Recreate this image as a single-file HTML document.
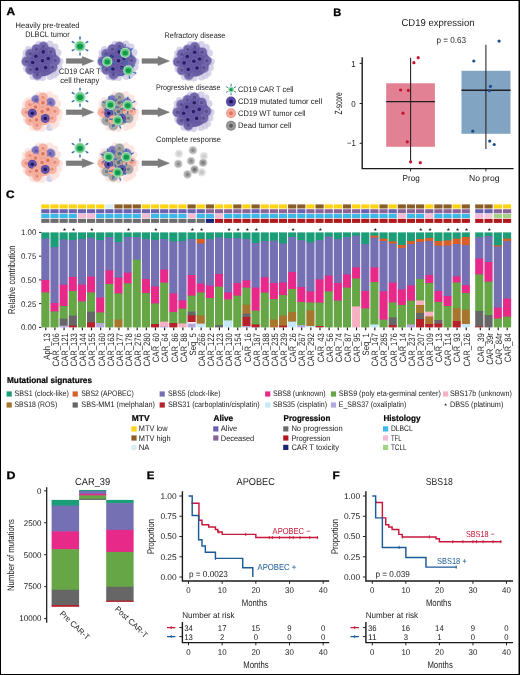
<!DOCTYPE html>
<html lang="en">
<head>
<meta charset="utf-8">
<title>Figure</title>
<style>
html,body{margin:0;padding:0;background:#fff;}
body{width:520px;height:675px;overflow:hidden;}
svg{display:block;font-family:"Liberation Sans",sans-serif;text-rendering:geometricPrecision;fill:#1a1a1a;}
</style>
</head>
<body>
<svg width="520" height="675" viewBox="0 0 520 675">
<rect x="0" y="0" width="520" height="675" fill="#ffffff"/>
<defs><filter id="soft" x="-20%" y="-20%" width="140%" height="140%"><feGaussianBlur stdDeviation="0.6"/></filter><filter id="soft2" x="-20%" y="-20%" width="140%" height="140%"><feGaussianBlur stdDeviation="0.35"/></filter></defs>
<g id="panel-a">
<text x="6.4" y="15.2" font-size="10.8" font-weight="bold" textLength="8.6" lengthAdjust="spacingAndGlyphs" fill="#000" stroke="#000" stroke-width="0.3">A</text>
<g filter="url(#soft)">
<circle cx="39" cy="44.2" r="3.5" fill="#cdc8e4" opacity="0.8"/>
<circle cx="49.9" cy="44" r="3.5" fill="#cdc8e4" opacity="0.8"/>
<circle cx="28.4" cy="49.6" r="3.5" fill="#cdc8e4" opacity="0.8"/>
<circle cx="58" cy="52.6" r="3.5" fill="#cdc8e4" opacity="0.8"/>
<circle cx="25.4" cy="58" r="3.5" fill="#cdc8e4" opacity="0.8"/>
<circle cx="60" cy="61.4" r="3.5" fill="#cdc8e4" opacity="0.8"/>
<circle cx="26.6" cy="68.6" r="3.5" fill="#cdc8e4" opacity="0.8"/>
<circle cx="56.6" cy="72.6" r="3.5" fill="#cdc8e4" opacity="0.8"/>
<circle cx="33" cy="76.4" r="3.5" fill="#cdc8e4" opacity="0.8"/>
<circle cx="42.6" cy="77.6" r="3.5" fill="#cdc8e4" opacity="0.8"/>
<circle cx="50" cy="76.6" r="3.5" fill="#cdc8e4" opacity="0.8"/>
<circle cx="55" cy="47" r="3.5" fill="#cdc8e4" opacity="0.8"/>
<circle cx="26" cy="53" r="3.5" fill="#cdc8e4" opacity="0.8"/>
<circle cx="59" cy="67" r="3.5" fill="#cdc8e4" opacity="0.8"/>
<circle cx="37.5" cy="77.4" r="3.5" fill="#cdc8e4" opacity="0.8"/>
<circle cx="54" cy="75" r="3.5" fill="#cdc8e4" opacity="0.8"/>
<circle cx="36.5" cy="49.2" r="5.4" fill="#9a91c6" opacity="0.9"/>
<circle cx="30.3" cy="53.8" r="5.4" fill="#9a91c6" opacity="0.9"/>
<circle cx="50.7" cy="51.9" r="5.4" fill="#9a91c6" opacity="0.9"/>
<circle cx="55.3" cy="60.4" r="5.4" fill="#9a91c6" opacity="0.9"/>
<circle cx="52.4" cy="67.3" r="5.4" fill="#9a91c6" opacity="0.9"/>
<circle cx="30.5" cy="69.7" r="5.4" fill="#9a91c6" opacity="0.9"/>
<circle cx="26.6" cy="61.5" r="5.4" fill="#9a91c6" opacity="0.9"/>
<circle cx="37.4" cy="74.5" r="5.4" fill="#9a91c6" opacity="0.9"/>
<circle cx="43.4" cy="46.6" r="5.4" fill="#9a91c6" opacity="0.9"/>
<circle cx="42.5" cy="61" r="15.2" fill="#6a5da6"/>
<g>
<circle cx="36.5" cy="49.2" r="4.4" fill="#6c60a8"/>
<circle cx="36.5" cy="49.2" r="3.5" fill="#766aae"/>
<circle cx="36.5" cy="49.2" r="1.7" fill="#5a4f8c"/>
</g>
<g>
<circle cx="30.3" cy="53.8" r="4.4" fill="#6c60a8"/>
<circle cx="30.3" cy="53.8" r="3.5" fill="#766aae"/>
<circle cx="30.3" cy="53.8" r="1.7" fill="#5a4f8c"/>
</g>
<g>
<circle cx="50.7" cy="51.9" r="4.4" fill="#6c60a8"/>
<circle cx="50.7" cy="51.9" r="3.5" fill="#766aae"/>
<circle cx="50.7" cy="51.9" r="1.7" fill="#5a4f8c"/>
</g>
<g>
<circle cx="55.3" cy="60.4" r="4.4" fill="#6c60a8"/>
<circle cx="55.3" cy="60.4" r="3.5" fill="#766aae"/>
<circle cx="55.3" cy="60.4" r="1.7" fill="#5a4f8c"/>
</g>
<g>
<circle cx="52.4" cy="67.3" r="4.4" fill="#6c60a8"/>
<circle cx="52.4" cy="67.3" r="3.5" fill="#766aae"/>
<circle cx="52.4" cy="67.3" r="1.7" fill="#5a4f8c"/>
</g>
<g>
<circle cx="30.5" cy="69.7" r="4.4" fill="#6c60a8"/>
<circle cx="30.5" cy="69.7" r="3.5" fill="#766aae"/>
<circle cx="30.5" cy="69.7" r="1.7" fill="#5a4f8c"/>
</g>
<g>
<circle cx="26.6" cy="61.5" r="4.4" fill="#6c60a8"/>
<circle cx="26.6" cy="61.5" r="3.5" fill="#766aae"/>
<circle cx="26.6" cy="61.5" r="1.7" fill="#5a4f8c"/>
</g>
<g>
<circle cx="37.4" cy="74.5" r="4.4" fill="#6c60a8"/>
<circle cx="37.4" cy="74.5" r="3.5" fill="#766aae"/>
<circle cx="37.4" cy="74.5" r="1.7" fill="#5a4f8c"/>
</g>
<g>
<circle cx="43.4" cy="46.6" r="4.4" fill="#6c60a8"/>
<circle cx="43.4" cy="46.6" r="3.5" fill="#766aae"/>
<circle cx="43.4" cy="46.6" r="1.7" fill="#5a4f8c"/>
</g>
<g>
<circle cx="43.25" cy="51.9" r="4.5" fill="#5f529f"/>
<circle cx="43.25" cy="51.9" r="3.6" fill="#6a5da6"/>
<circle cx="43.25" cy="51.9" r="1.8" fill="#2a1a66"/>
</g>
<g>
<circle cx="35.9" cy="56.2" r="4.5" fill="#5f529f"/>
<circle cx="35.9" cy="56.2" r="3.6" fill="#6a5da6"/>
<circle cx="35.9" cy="56.2" r="1.8" fill="#2a1a66"/>
</g>
<g>
<circle cx="48.25" cy="58.6" r="4.5" fill="#5f529f"/>
<circle cx="48.25" cy="58.6" r="3.6" fill="#6a5da6"/>
<circle cx="48.25" cy="58.6" r="1.8" fill="#2a1a66"/>
</g>
<g>
<circle cx="42.5" cy="60.8" r="4.5" fill="#5f529f"/>
<circle cx="42.5" cy="60.8" r="3.6" fill="#6a5da6"/>
<circle cx="42.5" cy="60.8" r="1.8" fill="#2a1a66"/>
</g>
<g>
<circle cx="32.7" cy="62.5" r="4.5" fill="#5f529f"/>
<circle cx="32.7" cy="62.5" r="3.6" fill="#6a5da6"/>
<circle cx="32.7" cy="62.5" r="1.8" fill="#2a1a66"/>
</g>
<g>
<circle cx="45.6" cy="67.6" r="4.5" fill="#5f529f"/>
<circle cx="45.6" cy="67.6" r="3.6" fill="#6a5da6"/>
<circle cx="45.6" cy="67.6" r="1.8" fill="#2a1a66"/>
</g>
<g>
<circle cx="36.9" cy="69" r="4.5" fill="#5f529f"/>
<circle cx="36.9" cy="69" r="3.6" fill="#6a5da6"/>
<circle cx="36.9" cy="69" r="1.8" fill="#2a1a66"/>
</g>
</g>
<g filter="url(#soft)">
<circle cx="38.6" cy="95" r="3.5" fill="#fde0d9" opacity="0.8"/>
<circle cx="49.5" cy="94.8" r="3.5" fill="#fde0d9" opacity="0.8"/>
<circle cx="28" cy="100.4" r="3.5" fill="#fde0d9" opacity="0.8"/>
<circle cx="57.6" cy="103.4" r="3.5" fill="#fde0d9" opacity="0.8"/>
<circle cx="25" cy="108.8" r="3.5" fill="#fde0d9" opacity="0.8"/>
<circle cx="59.6" cy="112.2" r="3.5" fill="#fde0d9" opacity="0.8"/>
<circle cx="26.2" cy="119.4" r="3.5" fill="#fde0d9" opacity="0.8"/>
<circle cx="56.2" cy="123.4" r="3.5" fill="#fde0d9" opacity="0.8"/>
<circle cx="32.6" cy="127.2" r="3.5" fill="#fde0d9" opacity="0.8"/>
<circle cx="42.2" cy="128.4" r="3.5" fill="#fde0d9" opacity="0.8"/>
<circle cx="49.6" cy="127.4" r="3.5" fill="#c4c4e8" opacity="0.8"/>
<circle cx="54.6" cy="97.8" r="3.5" fill="#fde0d9" opacity="0.8"/>
<circle cx="25.6" cy="103.8" r="3.5" fill="#fde0d9" opacity="0.8"/>
<circle cx="58.6" cy="117.8" r="3.5" fill="#fde0d9" opacity="0.8"/>
<circle cx="37.1" cy="128.2" r="3.5" fill="#fde0d9" opacity="0.8"/>
<circle cx="53.6" cy="125.8" r="3.5" fill="#fde0d9" opacity="0.8"/>
<circle cx="36.1" cy="100" r="5.4" fill="#a8a4d8" opacity="0.9"/>
<circle cx="29.9" cy="104.6" r="5.4" fill="#fac9be" opacity="0.9"/>
<circle cx="50.3" cy="102.7" r="5.4" fill="#a8a4d8" opacity="0.9"/>
<circle cx="54.9" cy="111.2" r="5.4" fill="#fac9be" opacity="0.9"/>
<circle cx="52" cy="118.1" r="5.4" fill="#fac9be" opacity="0.9"/>
<circle cx="30.1" cy="120.5" r="5.4" fill="#fac9be" opacity="0.9"/>
<circle cx="26.2" cy="112.3" r="5.4" fill="#fac9be" opacity="0.9"/>
<circle cx="37" cy="125.3" r="5.4" fill="#fac9be" opacity="0.9"/>
<circle cx="43" cy="97.4" r="5.4" fill="#fac9be" opacity="0.9"/>
<circle cx="42.1" cy="111.8" r="13.6" fill="#f5af9f"/>
<g>
<circle cx="36.1" cy="100" r="4.4" fill="#7a72bb"/>
<circle cx="36.1" cy="100" r="3.5" fill="#8079c0"/>
<circle cx="36.1" cy="100" r="1.7" fill="#615aa8"/>
</g>
<g>
<circle cx="29.9" cy="104.6" r="4.4" fill="#f4ab9b"/>
<circle cx="29.9" cy="104.6" r="3.5" fill="#f7b8aa"/>
<circle cx="29.9" cy="104.6" r="1.7" fill="#e58f7a"/>
</g>
<g>
<circle cx="50.3" cy="102.7" r="4.4" fill="#7a72bb"/>
<circle cx="50.3" cy="102.7" r="3.5" fill="#8079c0"/>
<circle cx="50.3" cy="102.7" r="1.7" fill="#615aa8"/>
</g>
<g>
<circle cx="54.9" cy="111.2" r="4.4" fill="#f4ab9b"/>
<circle cx="54.9" cy="111.2" r="3.5" fill="#f7b8aa"/>
<circle cx="54.9" cy="111.2" r="1.7" fill="#e58f7a"/>
</g>
<g>
<circle cx="52" cy="118.1" r="4.4" fill="#f4ab9b"/>
<circle cx="52" cy="118.1" r="3.5" fill="#f7b8aa"/>
<circle cx="52" cy="118.1" r="1.7" fill="#e58f7a"/>
</g>
<g>
<circle cx="30.1" cy="120.5" r="4.4" fill="#f4ab9b"/>
<circle cx="30.1" cy="120.5" r="3.5" fill="#f7b8aa"/>
<circle cx="30.1" cy="120.5" r="1.7" fill="#e58f7a"/>
</g>
<g>
<circle cx="26.2" cy="112.3" r="4.4" fill="#f4ab9b"/>
<circle cx="26.2" cy="112.3" r="3.5" fill="#f7b8aa"/>
<circle cx="26.2" cy="112.3" r="1.7" fill="#e58f7a"/>
</g>
<g>
<circle cx="37" cy="125.3" r="4.4" fill="#f4ab9b"/>
<circle cx="37" cy="125.3" r="3.5" fill="#f7b8aa"/>
<circle cx="37" cy="125.3" r="1.7" fill="#e58f7a"/>
</g>
<g>
<circle cx="43" cy="97.4" r="4.4" fill="#f4ab9b"/>
<circle cx="43" cy="97.4" r="3.5" fill="#f7b8aa"/>
<circle cx="43" cy="97.4" r="1.7" fill="#e58f7a"/>
</g>
<g>
<circle cx="42.85" cy="102.7" r="4.5" fill="#f2a290"/>
<circle cx="42.85" cy="102.7" r="3.6" fill="#f6b0a0"/>
<circle cx="42.85" cy="102.7" r="1.8" fill="#da755e"/>
</g>
<g>
<circle cx="35.5" cy="107" r="4.5" fill="#f2a290"/>
<circle cx="35.5" cy="107" r="3.6" fill="#f6b0a0"/>
<circle cx="35.5" cy="107" r="1.8" fill="#da755e"/>
</g>
<g>
<circle cx="47.85" cy="109.4" r="4.5" fill="#f2a290"/>
<circle cx="47.85" cy="109.4" r="3.6" fill="#f6b0a0"/>
<circle cx="47.85" cy="109.4" r="1.8" fill="#da755e"/>
</g>
<g>
<circle cx="42.1" cy="111.6" r="4.5" fill="#f2a290"/>
<circle cx="42.1" cy="111.6" r="3.6" fill="#f6b0a0"/>
<circle cx="42.1" cy="111.6" r="1.8" fill="#da755e"/>
</g>
<g>
<circle cx="32.3" cy="113.3" r="4.5" fill="#5546a0"/>
<circle cx="32.3" cy="113.3" r="3.6" fill="#6657aa"/>
<circle cx="32.3" cy="113.3" r="1.8" fill="#24135f"/>
</g>
<g>
<circle cx="45.2" cy="118.4" r="4.5" fill="#5546a0"/>
<circle cx="45.2" cy="118.4" r="3.6" fill="#6657aa"/>
<circle cx="45.2" cy="118.4" r="1.8" fill="#24135f"/>
</g>
<g>
<circle cx="36.5" cy="119.8" r="4.5" fill="#f2a290"/>
<circle cx="36.5" cy="119.8" r="3.6" fill="#f6b0a0"/>
<circle cx="36.5" cy="119.8" r="1.8" fill="#da755e"/>
</g>
</g>
<g filter="url(#soft)">
<circle cx="38.6" cy="146" r="3.5" fill="#fde0d9" opacity="0.8"/>
<circle cx="49.5" cy="145.8" r="3.5" fill="#fde0d9" opacity="0.8"/>
<circle cx="28" cy="151.4" r="3.5" fill="#fde0d9" opacity="0.8"/>
<circle cx="57.6" cy="154.4" r="3.5" fill="#fde0d9" opacity="0.8"/>
<circle cx="25" cy="159.8" r="3.5" fill="#fde0d9" opacity="0.8"/>
<circle cx="59.6" cy="163.2" r="3.5" fill="#fde0d9" opacity="0.8"/>
<circle cx="26.2" cy="170.4" r="3.5" fill="#fde0d9" opacity="0.8"/>
<circle cx="56.2" cy="174.4" r="3.5" fill="#fde0d9" opacity="0.8"/>
<circle cx="32.6" cy="178.2" r="3.5" fill="#fde0d9" opacity="0.8"/>
<circle cx="42.2" cy="179.4" r="3.5" fill="#fde0d9" opacity="0.8"/>
<circle cx="49.6" cy="178.4" r="3.5" fill="#c4c4e8" opacity="0.8"/>
<circle cx="54.6" cy="148.8" r="3.5" fill="#fde0d9" opacity="0.8"/>
<circle cx="25.6" cy="154.8" r="3.5" fill="#fde0d9" opacity="0.8"/>
<circle cx="58.6" cy="168.8" r="3.5" fill="#fde0d9" opacity="0.8"/>
<circle cx="37.1" cy="179.2" r="3.5" fill="#fde0d9" opacity="0.8"/>
<circle cx="53.6" cy="176.8" r="3.5" fill="#fde0d9" opacity="0.8"/>
<circle cx="36.1" cy="151" r="5.4" fill="#a8a4d8" opacity="0.9"/>
<circle cx="29.9" cy="155.6" r="5.4" fill="#fac9be" opacity="0.9"/>
<circle cx="50.3" cy="153.7" r="5.4" fill="#a8a4d8" opacity="0.9"/>
<circle cx="54.9" cy="162.2" r="5.4" fill="#fac9be" opacity="0.9"/>
<circle cx="52" cy="169.1" r="5.4" fill="#fac9be" opacity="0.9"/>
<circle cx="30.1" cy="171.5" r="5.4" fill="#fac9be" opacity="0.9"/>
<circle cx="26.2" cy="163.3" r="5.4" fill="#fac9be" opacity="0.9"/>
<circle cx="37" cy="176.3" r="5.4" fill="#fac9be" opacity="0.9"/>
<circle cx="43" cy="148.4" r="5.4" fill="#fac9be" opacity="0.9"/>
<circle cx="42.1" cy="162.8" r="13.6" fill="#f5af9f"/>
<g>
<circle cx="36.1" cy="151" r="4.4" fill="#7a72bb"/>
<circle cx="36.1" cy="151" r="3.5" fill="#8079c0"/>
<circle cx="36.1" cy="151" r="1.7" fill="#615aa8"/>
</g>
<g>
<circle cx="29.9" cy="155.6" r="4.4" fill="#f4ab9b"/>
<circle cx="29.9" cy="155.6" r="3.5" fill="#f7b8aa"/>
<circle cx="29.9" cy="155.6" r="1.7" fill="#e58f7a"/>
</g>
<g>
<circle cx="50.3" cy="153.7" r="4.4" fill="#7a72bb"/>
<circle cx="50.3" cy="153.7" r="3.5" fill="#8079c0"/>
<circle cx="50.3" cy="153.7" r="1.7" fill="#615aa8"/>
</g>
<g>
<circle cx="54.9" cy="162.2" r="4.4" fill="#f4ab9b"/>
<circle cx="54.9" cy="162.2" r="3.5" fill="#f7b8aa"/>
<circle cx="54.9" cy="162.2" r="1.7" fill="#e58f7a"/>
</g>
<g>
<circle cx="52" cy="169.1" r="4.4" fill="#f4ab9b"/>
<circle cx="52" cy="169.1" r="3.5" fill="#f7b8aa"/>
<circle cx="52" cy="169.1" r="1.7" fill="#e58f7a"/>
</g>
<g>
<circle cx="30.1" cy="171.5" r="4.4" fill="#f4ab9b"/>
<circle cx="30.1" cy="171.5" r="3.5" fill="#f7b8aa"/>
<circle cx="30.1" cy="171.5" r="1.7" fill="#e58f7a"/>
</g>
<g>
<circle cx="26.2" cy="163.3" r="4.4" fill="#f4ab9b"/>
<circle cx="26.2" cy="163.3" r="3.5" fill="#f7b8aa"/>
<circle cx="26.2" cy="163.3" r="1.7" fill="#e58f7a"/>
</g>
<g>
<circle cx="37" cy="176.3" r="4.4" fill="#f4ab9b"/>
<circle cx="37" cy="176.3" r="3.5" fill="#f7b8aa"/>
<circle cx="37" cy="176.3" r="1.7" fill="#e58f7a"/>
</g>
<g>
<circle cx="43" cy="148.4" r="4.4" fill="#f4ab9b"/>
<circle cx="43" cy="148.4" r="3.5" fill="#f7b8aa"/>
<circle cx="43" cy="148.4" r="1.7" fill="#e58f7a"/>
</g>
<g>
<circle cx="42.85" cy="153.7" r="4.5" fill="#f2a290"/>
<circle cx="42.85" cy="153.7" r="3.6" fill="#f6b0a0"/>
<circle cx="42.85" cy="153.7" r="1.8" fill="#da755e"/>
</g>
<g>
<circle cx="35.5" cy="158" r="4.5" fill="#f2a290"/>
<circle cx="35.5" cy="158" r="3.6" fill="#f6b0a0"/>
<circle cx="35.5" cy="158" r="1.8" fill="#da755e"/>
</g>
<g>
<circle cx="47.85" cy="160.4" r="4.5" fill="#f2a290"/>
<circle cx="47.85" cy="160.4" r="3.6" fill="#f6b0a0"/>
<circle cx="47.85" cy="160.4" r="1.8" fill="#da755e"/>
</g>
<g>
<circle cx="42.1" cy="162.6" r="4.5" fill="#f2a290"/>
<circle cx="42.1" cy="162.6" r="3.6" fill="#f6b0a0"/>
<circle cx="42.1" cy="162.6" r="1.8" fill="#da755e"/>
</g>
<g>
<circle cx="32.3" cy="164.3" r="4.5" fill="#5546a0"/>
<circle cx="32.3" cy="164.3" r="3.6" fill="#6657aa"/>
<circle cx="32.3" cy="164.3" r="1.8" fill="#24135f"/>
</g>
<g>
<circle cx="45.2" cy="169.4" r="4.5" fill="#5546a0"/>
<circle cx="45.2" cy="169.4" r="3.6" fill="#6657aa"/>
<circle cx="45.2" cy="169.4" r="1.8" fill="#24135f"/>
</g>
<g>
<circle cx="36.5" cy="170.8" r="4.5" fill="#f2a290"/>
<circle cx="36.5" cy="170.8" r="3.6" fill="#f6b0a0"/>
<circle cx="36.5" cy="170.8" r="1.8" fill="#da755e"/>
</g>
</g>
<line x1="80" y1="40.3" x2="80" y2="39.2" stroke="#8d9aa8" stroke-width="1.05"/>
<line x1="80" y1="39.2" x2="80" y2="36.6" stroke="#2d6fb0" stroke-width="1.5"/>
<line x1="74.98" y1="43.2" x2="74.02" y2="42.65" stroke="#8d9aa8" stroke-width="1.05"/>
<line x1="74.02" y1="42.65" x2="71.77" y2="41.35" stroke="#2d6fb0" stroke-width="1.5"/>
<line x1="74.98" y1="49" x2="74.02" y2="49.55" stroke="#8d9aa8" stroke-width="1.05"/>
<line x1="74.02" y1="49.55" x2="71.77" y2="50.85" stroke="#2d6fb0" stroke-width="1.5"/>
<line x1="80" y1="51.9" x2="80" y2="53" stroke="#8d9aa8" stroke-width="1.05"/>
<line x1="80" y1="53" x2="80" y2="55.6" stroke="#2d6fb0" stroke-width="1.5"/>
<line x1="85.02" y1="49" x2="85.98" y2="49.55" stroke="#8d9aa8" stroke-width="1.05"/>
<line x1="85.98" y1="49.55" x2="88.23" y2="50.85" stroke="#2d6fb0" stroke-width="1.5"/>
<line x1="85.02" y1="43.2" x2="85.98" y2="42.65" stroke="#8d9aa8" stroke-width="1.05"/>
<line x1="85.98" y1="42.65" x2="88.23" y2="41.35" stroke="#2d6fb0" stroke-width="1.5"/>
<circle cx="80" cy="46.1" r="5.6" fill="#b0e2bb"/>
<circle cx="80" cy="46.1" r="4.5" fill="#62c782"/>
<ellipse cx="80" cy="46.3" rx="2.97" ry="2.59" fill="#0f9a4d"/>
<path d="M66.3 58.7H82.3V56.6L93.6 61L82.3 65.4V63.3H66.3Z" fill="#7c7c7c" stroke="#6a6a6a" stroke-width="0.5"/>
<path d="M142 58.7H158.1V56.6L169.4 61L158.1 65.4V63.3H142Z" fill="#7c7c7c" stroke="#6a6a6a" stroke-width="0.5"/>
<line x1="80" y1="91.4" x2="80" y2="90.3" stroke="#8d9aa8" stroke-width="1.05"/>
<line x1="80" y1="90.3" x2="80" y2="87.7" stroke="#2d6fb0" stroke-width="1.5"/>
<line x1="74.98" y1="94.3" x2="74.02" y2="93.75" stroke="#8d9aa8" stroke-width="1.05"/>
<line x1="74.02" y1="93.75" x2="71.77" y2="92.45" stroke="#2d6fb0" stroke-width="1.5"/>
<line x1="74.98" y1="100.1" x2="74.02" y2="100.65" stroke="#8d9aa8" stroke-width="1.05"/>
<line x1="74.02" y1="100.65" x2="71.77" y2="101.95" stroke="#2d6fb0" stroke-width="1.5"/>
<line x1="80" y1="103" x2="80" y2="104.1" stroke="#8d9aa8" stroke-width="1.05"/>
<line x1="80" y1="104.1" x2="80" y2="106.7" stroke="#2d6fb0" stroke-width="1.5"/>
<line x1="85.02" y1="100.1" x2="85.98" y2="100.65" stroke="#8d9aa8" stroke-width="1.05"/>
<line x1="85.98" y1="100.65" x2="88.23" y2="101.95" stroke="#2d6fb0" stroke-width="1.5"/>
<line x1="85.02" y1="94.3" x2="85.98" y2="93.75" stroke="#8d9aa8" stroke-width="1.05"/>
<line x1="85.98" y1="93.75" x2="88.23" y2="92.45" stroke="#2d6fb0" stroke-width="1.5"/>
<circle cx="80" cy="97.2" r="5.6" fill="#b0e2bb"/>
<circle cx="80" cy="97.2" r="4.5" fill="#62c782"/>
<ellipse cx="80" cy="97.4" rx="2.97" ry="2.59" fill="#0f9a4d"/>
<path d="M66.3 109.9H82.3V107.8L93.6 112.2L82.3 116.6V114.5H66.3Z" fill="#7c7c7c" stroke="#6a6a6a" stroke-width="0.5"/>
<path d="M142 109.9H158.1V107.8L169.4 112.2L158.1 116.6V114.5H142Z" fill="#7c7c7c" stroke="#6a6a6a" stroke-width="0.5"/>
<line x1="80" y1="142.3" x2="80" y2="141.2" stroke="#8d9aa8" stroke-width="1.05"/>
<line x1="80" y1="141.2" x2="80" y2="138.6" stroke="#2d6fb0" stroke-width="1.5"/>
<line x1="74.98" y1="145.2" x2="74.02" y2="144.65" stroke="#8d9aa8" stroke-width="1.05"/>
<line x1="74.02" y1="144.65" x2="71.77" y2="143.35" stroke="#2d6fb0" stroke-width="1.5"/>
<line x1="74.98" y1="151" x2="74.02" y2="151.55" stroke="#8d9aa8" stroke-width="1.05"/>
<line x1="74.02" y1="151.55" x2="71.77" y2="152.85" stroke="#2d6fb0" stroke-width="1.5"/>
<line x1="80" y1="153.9" x2="80" y2="155" stroke="#8d9aa8" stroke-width="1.05"/>
<line x1="80" y1="155" x2="80" y2="157.6" stroke="#2d6fb0" stroke-width="1.5"/>
<line x1="85.02" y1="151" x2="85.98" y2="151.55" stroke="#8d9aa8" stroke-width="1.05"/>
<line x1="85.98" y1="151.55" x2="88.23" y2="152.85" stroke="#2d6fb0" stroke-width="1.5"/>
<line x1="85.02" y1="145.2" x2="85.98" y2="144.65" stroke="#8d9aa8" stroke-width="1.05"/>
<line x1="85.98" y1="144.65" x2="88.23" y2="143.35" stroke="#2d6fb0" stroke-width="1.5"/>
<circle cx="80" cy="148.1" r="5.6" fill="#b0e2bb"/>
<circle cx="80" cy="148.1" r="4.5" fill="#62c782"/>
<ellipse cx="80" cy="148.3" rx="2.97" ry="2.59" fill="#0f9a4d"/>
<path d="M66.3 160.9H82.3V158.8L93.6 163.2L82.3 167.6V165.5H66.3Z" fill="#7c7c7c" stroke="#6a6a6a" stroke-width="0.5"/>
<path d="M142 160.9H158.1V158.8L169.4 163.2L158.1 167.6V165.5H142Z" fill="#7c7c7c" stroke="#6a6a6a" stroke-width="0.5"/>
<g filter="url(#soft)">
<circle cx="115" cy="44.2" r="3.5" fill="#cdc8e4" opacity="0.8"/>
<circle cx="125.9" cy="44" r="3.5" fill="#cdc8e4" opacity="0.8"/>
<circle cx="104.4" cy="49.6" r="3.5" fill="#cdc8e4" opacity="0.8"/>
<circle cx="134" cy="52.6" r="3.5" fill="#cdc8e4" opacity="0.8"/>
<circle cx="101.4" cy="58" r="3.5" fill="#cdc8e4" opacity="0.8"/>
<circle cx="136" cy="61.4" r="3.5" fill="#cdc8e4" opacity="0.8"/>
<circle cx="102.6" cy="68.6" r="3.5" fill="#cdc8e4" opacity="0.8"/>
<circle cx="132.6" cy="72.6" r="3.5" fill="#cdc8e4" opacity="0.8"/>
<circle cx="109" cy="76.4" r="3.5" fill="#cdc8e4" opacity="0.8"/>
<circle cx="118.6" cy="77.6" r="3.5" fill="#cdc8e4" opacity="0.8"/>
<circle cx="126" cy="76.6" r="3.5" fill="#cdc8e4" opacity="0.8"/>
<circle cx="131" cy="47" r="3.5" fill="#cdc8e4" opacity="0.8"/>
<circle cx="102" cy="53" r="3.5" fill="#cdc8e4" opacity="0.8"/>
<circle cx="135" cy="67" r="3.5" fill="#cdc8e4" opacity="0.8"/>
<circle cx="113.5" cy="77.4" r="3.5" fill="#cdc8e4" opacity="0.8"/>
<circle cx="130" cy="75" r="3.5" fill="#cdc8e4" opacity="0.8"/>
<circle cx="112.5" cy="49.2" r="5.4" fill="#9a91c6" opacity="0.9"/>
<circle cx="106.3" cy="53.8" r="5.4" fill="#9a91c6" opacity="0.9"/>
<circle cx="126.7" cy="51.9" r="5.4" fill="#9a91c6" opacity="0.9"/>
<circle cx="131.3" cy="60.4" r="5.4" fill="#9a91c6" opacity="0.9"/>
<circle cx="128.4" cy="67.3" r="5.4" fill="#9a91c6" opacity="0.9"/>
<circle cx="106.5" cy="69.7" r="5.4" fill="#9a91c6" opacity="0.9"/>
<circle cx="102.6" cy="61.5" r="5.4" fill="#9a91c6" opacity="0.9"/>
<circle cx="113.4" cy="74.5" r="5.4" fill="#9a91c6" opacity="0.9"/>
<circle cx="119.4" cy="46.6" r="5.4" fill="#9a91c6" opacity="0.9"/>
<circle cx="118.5" cy="61" r="15.2" fill="#6a5da6"/>
<g>
<circle cx="112.5" cy="49.2" r="4.4" fill="#6c60a8"/>
<circle cx="112.5" cy="49.2" r="3.5" fill="#766aae"/>
<circle cx="112.5" cy="49.2" r="1.7" fill="#5a4f8c"/>
</g>
<g>
<circle cx="106.3" cy="53.8" r="4.4" fill="#6c60a8"/>
<circle cx="106.3" cy="53.8" r="3.5" fill="#766aae"/>
<circle cx="106.3" cy="53.8" r="1.7" fill="#5a4f8c"/>
</g>
<g>
<circle cx="126.7" cy="51.9" r="4.4" fill="#6c60a8"/>
<circle cx="126.7" cy="51.9" r="3.5" fill="#766aae"/>
<circle cx="126.7" cy="51.9" r="1.7" fill="#5a4f8c"/>
</g>
<g>
<circle cx="131.3" cy="60.4" r="4.4" fill="#6c60a8"/>
<circle cx="131.3" cy="60.4" r="3.5" fill="#766aae"/>
<circle cx="131.3" cy="60.4" r="1.7" fill="#5a4f8c"/>
</g>
<g>
<circle cx="128.4" cy="67.3" r="4.4" fill="#6c60a8"/>
<circle cx="128.4" cy="67.3" r="3.5" fill="#766aae"/>
<circle cx="128.4" cy="67.3" r="1.7" fill="#5a4f8c"/>
</g>
<g>
<circle cx="106.5" cy="69.7" r="4.4" fill="#6c60a8"/>
<circle cx="106.5" cy="69.7" r="3.5" fill="#766aae"/>
<circle cx="106.5" cy="69.7" r="1.7" fill="#5a4f8c"/>
</g>
<g>
<circle cx="102.6" cy="61.5" r="4.4" fill="#6c60a8"/>
<circle cx="102.6" cy="61.5" r="3.5" fill="#766aae"/>
<circle cx="102.6" cy="61.5" r="1.7" fill="#5a4f8c"/>
</g>
<g>
<circle cx="113.4" cy="74.5" r="4.4" fill="#6c60a8"/>
<circle cx="113.4" cy="74.5" r="3.5" fill="#766aae"/>
<circle cx="113.4" cy="74.5" r="1.7" fill="#5a4f8c"/>
</g>
<g>
<circle cx="119.4" cy="46.6" r="4.4" fill="#6c60a8"/>
<circle cx="119.4" cy="46.6" r="3.5" fill="#766aae"/>
<circle cx="119.4" cy="46.6" r="1.7" fill="#5a4f8c"/>
</g>
<g>
<circle cx="119.25" cy="51.9" r="4.5" fill="#5f529f"/>
<circle cx="119.25" cy="51.9" r="3.6" fill="#6a5da6"/>
<circle cx="119.25" cy="51.9" r="1.8" fill="#2a1a66"/>
</g>
<g>
<circle cx="111.9" cy="56.2" r="4.5" fill="#5f529f"/>
<circle cx="111.9" cy="56.2" r="3.6" fill="#6a5da6"/>
<circle cx="111.9" cy="56.2" r="1.8" fill="#2a1a66"/>
</g>
<g>
<circle cx="124.25" cy="58.6" r="4.5" fill="#5f529f"/>
<circle cx="124.25" cy="58.6" r="3.6" fill="#6a5da6"/>
<circle cx="124.25" cy="58.6" r="1.8" fill="#2a1a66"/>
</g>
<g>
<circle cx="118.5" cy="60.8" r="4.5" fill="#5f529f"/>
<circle cx="118.5" cy="60.8" r="3.6" fill="#6a5da6"/>
<circle cx="118.5" cy="60.8" r="1.8" fill="#2a1a66"/>
</g>
<g>
<circle cx="108.7" cy="62.5" r="4.5" fill="#5f529f"/>
<circle cx="108.7" cy="62.5" r="3.6" fill="#6a5da6"/>
<circle cx="108.7" cy="62.5" r="1.8" fill="#2a1a66"/>
</g>
<g>
<circle cx="121.6" cy="67.6" r="4.5" fill="#5f529f"/>
<circle cx="121.6" cy="67.6" r="3.6" fill="#6a5da6"/>
<circle cx="121.6" cy="67.6" r="1.8" fill="#2a1a66"/>
</g>
<g>
<circle cx="112.9" cy="69" r="4.5" fill="#5f529f"/>
<circle cx="112.9" cy="69" r="3.6" fill="#6a5da6"/>
<circle cx="112.9" cy="69" r="1.8" fill="#2a1a66"/>
</g>
</g>
<line x1="105.49" y1="56.72" x2="105.11" y2="55.69" stroke="#2d6fb0" stroke-width="1.3"/>
<line x1="105.11" y1="55.69" x2="104.36" y2="53.62" stroke="#2d6fb0" stroke-width="1.3"/>
<line x1="102.08" y1="60.78" x2="101" y2="60.59" stroke="#2d6fb0" stroke-width="1.3"/>
<line x1="101" y1="60.59" x2="98.83" y2="60.21" stroke="#2d6fb0" stroke-width="1.3"/>
<line x1="103.89" y1="65.76" x2="103.19" y2="66.6" stroke="#2d6fb0" stroke-width="1.3"/>
<line x1="103.19" y1="66.6" x2="101.77" y2="68.29" stroke="#2d6fb0" stroke-width="1.3"/>
<line x1="109.11" y1="66.68" x2="109.49" y2="67.71" stroke="#2d6fb0" stroke-width="1.3"/>
<line x1="109.49" y1="67.71" x2="110.24" y2="69.78" stroke="#2d6fb0" stroke-width="1.3"/>
<line x1="112.52" y1="62.62" x2="113.6" y2="62.81" stroke="#2d6fb0" stroke-width="1.3"/>
<line x1="113.6" y1="62.81" x2="115.77" y2="63.19" stroke="#2d6fb0" stroke-width="1.3"/>
<line x1="110.71" y1="57.64" x2="111.41" y2="56.8" stroke="#2d6fb0" stroke-width="1.3"/>
<line x1="111.41" y1="56.8" x2="112.83" y2="55.11" stroke="#2d6fb0" stroke-width="1.3"/>
<circle cx="107.3" cy="61.7" r="5.1" fill="#b0e2bb"/>
<circle cx="107.3" cy="61.7" r="4" fill="#62c782"/>
<ellipse cx="107.3" cy="61.9" rx="2.7" ry="2.35" fill="#0f9a4d"/>
<line x1="125.2" y1="47.5" x2="125.2" y2="46.4" stroke="#2d6fb0" stroke-width="1.3"/>
<line x1="125.2" y1="46.4" x2="125.2" y2="44.2" stroke="#2d6fb0" stroke-width="1.3"/>
<line x1="120.61" y1="50.15" x2="119.66" y2="49.6" stroke="#2d6fb0" stroke-width="1.3"/>
<line x1="119.66" y1="49.6" x2="117.75" y2="48.5" stroke="#2d6fb0" stroke-width="1.3"/>
<line x1="120.61" y1="55.45" x2="119.66" y2="56" stroke="#2d6fb0" stroke-width="1.3"/>
<line x1="119.66" y1="56" x2="117.75" y2="57.1" stroke="#2d6fb0" stroke-width="1.3"/>
<line x1="125.2" y1="58.1" x2="125.2" y2="59.2" stroke="#2d6fb0" stroke-width="1.3"/>
<line x1="125.2" y1="59.2" x2="125.2" y2="61.4" stroke="#2d6fb0" stroke-width="1.3"/>
<line x1="129.79" y1="55.45" x2="130.74" y2="56" stroke="#2d6fb0" stroke-width="1.3"/>
<line x1="130.74" y1="56" x2="132.65" y2="57.1" stroke="#2d6fb0" stroke-width="1.3"/>
<line x1="129.79" y1="50.15" x2="130.74" y2="49.6" stroke="#2d6fb0" stroke-width="1.3"/>
<line x1="130.74" y1="49.6" x2="132.65" y2="48.5" stroke="#2d6fb0" stroke-width="1.3"/>
<circle cx="125.2" cy="52.8" r="5.1" fill="#b0e2bb"/>
<circle cx="125.2" cy="52.8" r="4" fill="#62c782"/>
<ellipse cx="125.2" cy="53" rx="2.7" ry="2.35" fill="#0f9a4d"/>
<line x1="127.38" y1="65.18" x2="127.19" y2="64.1" stroke="#2d6fb0" stroke-width="1.3"/>
<line x1="127.19" y1="64.1" x2="126.81" y2="61.93" stroke="#2d6fb0" stroke-width="1.3"/>
<line x1="123.32" y1="68.59" x2="122.29" y2="68.21" stroke="#2d6fb0" stroke-width="1.3"/>
<line x1="122.29" y1="68.21" x2="120.22" y2="67.46" stroke="#2d6fb0" stroke-width="1.3"/>
<line x1="124.24" y1="73.81" x2="123.4" y2="74.51" stroke="#2d6fb0" stroke-width="1.3"/>
<line x1="123.4" y1="74.51" x2="121.71" y2="75.93" stroke="#2d6fb0" stroke-width="1.3"/>
<line x1="129.22" y1="75.62" x2="129.41" y2="76.7" stroke="#2d6fb0" stroke-width="1.3"/>
<line x1="129.41" y1="76.7" x2="129.79" y2="78.87" stroke="#2d6fb0" stroke-width="1.3"/>
<line x1="133.28" y1="72.21" x2="134.31" y2="72.59" stroke="#2d6fb0" stroke-width="1.3"/>
<line x1="134.31" y1="72.59" x2="136.38" y2="73.34" stroke="#2d6fb0" stroke-width="1.3"/>
<line x1="132.36" y1="66.99" x2="133.2" y2="66.29" stroke="#2d6fb0" stroke-width="1.3"/>
<line x1="133.2" y1="66.29" x2="134.89" y2="64.87" stroke="#2d6fb0" stroke-width="1.3"/>
<circle cx="128.3" cy="70.4" r="5.1" fill="#b0e2bb"/>
<circle cx="128.3" cy="70.4" r="4" fill="#62c782"/>
<ellipse cx="128.3" cy="70.6" rx="2.7" ry="2.35" fill="#0f9a4d"/>
<g filter="url(#soft)">
<circle cx="115" cy="95" r="3.5" fill="#fde0d9" opacity="0.8"/>
<circle cx="125.9" cy="94.8" r="3.5" fill="#fde0d9" opacity="0.8"/>
<circle cx="104.4" cy="100.4" r="3.5" fill="#fde0d9" opacity="0.8"/>
<circle cx="134" cy="103.4" r="3.5" fill="#fde0d9" opacity="0.8"/>
<circle cx="101.4" cy="108.8" r="3.5" fill="#fde0d9" opacity="0.8"/>
<circle cx="136" cy="112.2" r="3.5" fill="#fde0d9" opacity="0.8"/>
<circle cx="102.6" cy="119.4" r="3.5" fill="#fde0d9" opacity="0.8"/>
<circle cx="132.6" cy="123.4" r="3.5" fill="#fde0d9" opacity="0.8"/>
<circle cx="109" cy="127.2" r="3.5" fill="#fde0d9" opacity="0.8"/>
<circle cx="118.6" cy="128.4" r="3.5" fill="#fde0d9" opacity="0.8"/>
<circle cx="126" cy="127.4" r="3.5" fill="#fde0d9" opacity="0.8"/>
<circle cx="131" cy="97.8" r="3.5" fill="#fde0d9" opacity="0.8"/>
<circle cx="102" cy="103.8" r="3.5" fill="#fde0d9" opacity="0.8"/>
<circle cx="135" cy="117.8" r="3.5" fill="#fde0d9" opacity="0.8"/>
<circle cx="113.5" cy="128.2" r="3.5" fill="#fde0d9" opacity="0.8"/>
<circle cx="130" cy="125.8" r="3.5" fill="#fde0d9" opacity="0.8"/>
<circle cx="112.5" cy="100" r="5.4" fill="#a8a4d8" opacity="0.9"/>
<circle cx="106.3" cy="104.6" r="5.4" fill="#c4c4c4" opacity="0.9"/>
<circle cx="126.7" cy="102.7" r="5.4" fill="#a8a4d8" opacity="0.9"/>
<circle cx="131.3" cy="111.2" r="5.4" fill="#fac9be" opacity="0.9"/>
<circle cx="128.4" cy="118.1" r="5.4" fill="#c4c4c4" opacity="0.9"/>
<circle cx="106.5" cy="120.5" r="5.4" fill="#c4c4c4" opacity="0.9"/>
<circle cx="102.6" cy="112.3" r="5.4" fill="#fac9be" opacity="0.9"/>
<circle cx="113.4" cy="125.3" r="5.4" fill="#c4c4c4" opacity="0.9"/>
<circle cx="119.4" cy="97.4" r="5.4" fill="#c4c4c4" opacity="0.9"/>
<circle cx="118.5" cy="111.8" r="13.6" fill="#a0a0a0"/>
<g>
<circle cx="112.5" cy="100" r="4.4" fill="#7a72bb"/>
<circle cx="112.5" cy="100" r="3.5" fill="#8079c0"/>
<circle cx="112.5" cy="100" r="1.7" fill="#615aa8"/>
</g>
<g>
<circle cx="106.3" cy="104.6" r="4.4" fill="#9a9a9a"/>
<circle cx="106.3" cy="104.6" r="3.5" fill="#a9a9a9"/>
<circle cx="106.3" cy="104.6" r="1.7" fill="#7d7d7d"/>
</g>
<g>
<circle cx="126.7" cy="102.7" r="4.4" fill="#7a72bb"/>
<circle cx="126.7" cy="102.7" r="3.5" fill="#8079c0"/>
<circle cx="126.7" cy="102.7" r="1.7" fill="#615aa8"/>
</g>
<g>
<circle cx="131.3" cy="111.2" r="4.4" fill="#f4ab9b"/>
<circle cx="131.3" cy="111.2" r="3.5" fill="#f7b8aa"/>
<circle cx="131.3" cy="111.2" r="1.7" fill="#e58f7a"/>
</g>
<g>
<circle cx="128.4" cy="118.1" r="4.4" fill="#9a9a9a"/>
<circle cx="128.4" cy="118.1" r="3.5" fill="#a9a9a9"/>
<circle cx="128.4" cy="118.1" r="1.7" fill="#7d7d7d"/>
</g>
<g>
<circle cx="106.5" cy="120.5" r="4.4" fill="#9a9a9a"/>
<circle cx="106.5" cy="120.5" r="3.5" fill="#a9a9a9"/>
<circle cx="106.5" cy="120.5" r="1.7" fill="#7d7d7d"/>
</g>
<g>
<circle cx="102.6" cy="112.3" r="4.4" fill="#f4ab9b"/>
<circle cx="102.6" cy="112.3" r="3.5" fill="#f7b8aa"/>
<circle cx="102.6" cy="112.3" r="1.7" fill="#e58f7a"/>
</g>
<g>
<circle cx="113.4" cy="125.3" r="4.4" fill="#9a9a9a"/>
<circle cx="113.4" cy="125.3" r="3.5" fill="#a9a9a9"/>
<circle cx="113.4" cy="125.3" r="1.7" fill="#7d7d7d"/>
</g>
<g>
<circle cx="119.4" cy="97.4" r="4.4" fill="#9a9a9a"/>
<circle cx="119.4" cy="97.4" r="3.5" fill="#a9a9a9"/>
<circle cx="119.4" cy="97.4" r="1.7" fill="#7d7d7d"/>
</g>
<g>
<circle cx="119.25" cy="102.7" r="4.5" fill="#8e8e8e"/>
<circle cx="119.25" cy="102.7" r="3.6" fill="#a3a3a3"/>
<circle cx="119.25" cy="102.7" r="1.8" fill="#6a6a6a"/>
</g>
<g>
<circle cx="111.9" cy="107" r="4.5" fill="#8e8e8e"/>
<circle cx="111.9" cy="107" r="3.6" fill="#a3a3a3"/>
<circle cx="111.9" cy="107" r="1.8" fill="#6a6a6a"/>
</g>
<g>
<circle cx="124.25" cy="109.4" r="4.5" fill="#f2a290"/>
<circle cx="124.25" cy="109.4" r="3.6" fill="#f6b0a0"/>
<circle cx="124.25" cy="109.4" r="1.8" fill="#da755e"/>
</g>
<g>
<circle cx="118.5" cy="111.6" r="4.5" fill="#8e8e8e"/>
<circle cx="118.5" cy="111.6" r="3.6" fill="#a3a3a3"/>
<circle cx="118.5" cy="111.6" r="1.8" fill="#6a6a6a"/>
</g>
<g>
<circle cx="108.7" cy="113.3" r="4.5" fill="#5546a0"/>
<circle cx="108.7" cy="113.3" r="3.6" fill="#6657aa"/>
<circle cx="108.7" cy="113.3" r="1.8" fill="#24135f"/>
</g>
<g>
<circle cx="121.6" cy="118.4" r="4.5" fill="#5546a0"/>
<circle cx="121.6" cy="118.4" r="3.6" fill="#6657aa"/>
<circle cx="121.6" cy="118.4" r="1.8" fill="#24135f"/>
</g>
<g>
<circle cx="112.9" cy="119.8" r="4.5" fill="#f2a290"/>
<circle cx="112.9" cy="119.8" r="3.6" fill="#f6b0a0"/>
<circle cx="112.9" cy="119.8" r="1.8" fill="#da755e"/>
</g>
</g>
<line x1="109.58" y1="99.58" x2="109.39" y2="98.5" stroke="#2d6fb0" stroke-width="1.3"/>
<line x1="109.39" y1="98.5" x2="109.01" y2="96.33" stroke="#2d6fb0" stroke-width="1.3"/>
<line x1="105.52" y1="102.99" x2="104.49" y2="102.61" stroke="#2d6fb0" stroke-width="1.3"/>
<line x1="104.49" y1="102.61" x2="102.42" y2="101.86" stroke="#2d6fb0" stroke-width="1.3"/>
<line x1="106.44" y1="108.21" x2="105.6" y2="108.91" stroke="#2d6fb0" stroke-width="1.3"/>
<line x1="105.6" y1="108.91" x2="103.91" y2="110.33" stroke="#2d6fb0" stroke-width="1.3"/>
<line x1="111.42" y1="110.02" x2="111.61" y2="111.1" stroke="#2d6fb0" stroke-width="1.3"/>
<line x1="111.61" y1="111.1" x2="111.99" y2="113.27" stroke="#2d6fb0" stroke-width="1.3"/>
<line x1="115.48" y1="106.61" x2="116.51" y2="106.99" stroke="#2d6fb0" stroke-width="1.3"/>
<line x1="116.51" y1="106.99" x2="118.58" y2="107.74" stroke="#2d6fb0" stroke-width="1.3"/>
<line x1="114.56" y1="101.39" x2="115.4" y2="100.69" stroke="#2d6fb0" stroke-width="1.3"/>
<line x1="115.4" y1="100.69" x2="117.09" y2="99.27" stroke="#2d6fb0" stroke-width="1.3"/>
<circle cx="110.5" cy="104.8" r="5.1" fill="#b0e2bb"/>
<circle cx="110.5" cy="104.8" r="4" fill="#62c782"/>
<ellipse cx="110.5" cy="105" rx="2.7" ry="2.35" fill="#0f9a4d"/>
<line x1="127.8" y1="100.1" x2="127.8" y2="99" stroke="#2d6fb0" stroke-width="1.3"/>
<line x1="127.8" y1="99" x2="127.8" y2="96.8" stroke="#2d6fb0" stroke-width="1.3"/>
<line x1="123.21" y1="102.75" x2="122.26" y2="102.2" stroke="#2d6fb0" stroke-width="1.3"/>
<line x1="122.26" y1="102.2" x2="120.35" y2="101.1" stroke="#2d6fb0" stroke-width="1.3"/>
<line x1="123.21" y1="108.05" x2="122.26" y2="108.6" stroke="#2d6fb0" stroke-width="1.3"/>
<line x1="122.26" y1="108.6" x2="120.35" y2="109.7" stroke="#2d6fb0" stroke-width="1.3"/>
<line x1="127.8" y1="110.7" x2="127.8" y2="111.8" stroke="#2d6fb0" stroke-width="1.3"/>
<line x1="127.8" y1="111.8" x2="127.8" y2="114" stroke="#2d6fb0" stroke-width="1.3"/>
<line x1="132.39" y1="108.05" x2="133.34" y2="108.6" stroke="#2d6fb0" stroke-width="1.3"/>
<line x1="133.34" y1="108.6" x2="135.25" y2="109.7" stroke="#2d6fb0" stroke-width="1.3"/>
<line x1="132.39" y1="102.75" x2="133.34" y2="102.2" stroke="#2d6fb0" stroke-width="1.3"/>
<line x1="133.34" y1="102.2" x2="135.25" y2="101.1" stroke="#2d6fb0" stroke-width="1.3"/>
<circle cx="127.8" cy="105.4" r="5.1" fill="#b0e2bb"/>
<circle cx="127.8" cy="105.4" r="4" fill="#62c782"/>
<ellipse cx="127.8" cy="105.6" rx="2.7" ry="2.35" fill="#0f9a4d"/>
<line x1="115.89" y1="115.42" x2="115.51" y2="114.39" stroke="#2d6fb0" stroke-width="1.3"/>
<line x1="115.51" y1="114.39" x2="114.76" y2="112.32" stroke="#2d6fb0" stroke-width="1.3"/>
<line x1="112.48" y1="119.48" x2="111.4" y2="119.29" stroke="#2d6fb0" stroke-width="1.3"/>
<line x1="111.4" y1="119.29" x2="109.23" y2="118.91" stroke="#2d6fb0" stroke-width="1.3"/>
<line x1="114.29" y1="124.46" x2="113.59" y2="125.3" stroke="#2d6fb0" stroke-width="1.3"/>
<line x1="113.59" y1="125.3" x2="112.17" y2="126.99" stroke="#2d6fb0" stroke-width="1.3"/>
<line x1="119.51" y1="125.38" x2="119.89" y2="126.41" stroke="#2d6fb0" stroke-width="1.3"/>
<line x1="119.89" y1="126.41" x2="120.64" y2="128.48" stroke="#2d6fb0" stroke-width="1.3"/>
<line x1="122.92" y1="121.32" x2="124" y2="121.51" stroke="#2d6fb0" stroke-width="1.3"/>
<line x1="124" y1="121.51" x2="126.17" y2="121.89" stroke="#2d6fb0" stroke-width="1.3"/>
<line x1="121.11" y1="116.34" x2="121.81" y2="115.5" stroke="#2d6fb0" stroke-width="1.3"/>
<line x1="121.81" y1="115.5" x2="123.23" y2="113.81" stroke="#2d6fb0" stroke-width="1.3"/>
<circle cx="117.7" cy="120.4" r="5.1" fill="#b0e2bb"/>
<circle cx="117.7" cy="120.4" r="4" fill="#62c782"/>
<ellipse cx="117.7" cy="120.6" rx="2.7" ry="2.35" fill="#0f9a4d"/>
<g filter="url(#soft)">
<circle cx="115" cy="146" r="3.5" fill="#fde0d9" opacity="0.8"/>
<circle cx="125.9" cy="145.8" r="3.5" fill="#fde0d9" opacity="0.8"/>
<circle cx="104.4" cy="151.4" r="3.5" fill="#fde0d9" opacity="0.8"/>
<circle cx="134" cy="154.4" r="3.5" fill="#fde0d9" opacity="0.8"/>
<circle cx="101.4" cy="159.8" r="3.5" fill="#fde0d9" opacity="0.8"/>
<circle cx="136" cy="163.2" r="3.5" fill="#fde0d9" opacity="0.8"/>
<circle cx="102.6" cy="170.4" r="3.5" fill="#fde0d9" opacity="0.8"/>
<circle cx="132.6" cy="174.4" r="3.5" fill="#fde0d9" opacity="0.8"/>
<circle cx="109" cy="178.2" r="3.5" fill="#fde0d9" opacity="0.8"/>
<circle cx="118.6" cy="179.4" r="3.5" fill="#fde0d9" opacity="0.8"/>
<circle cx="126" cy="178.4" r="3.5" fill="#fde0d9" opacity="0.8"/>
<circle cx="131" cy="148.8" r="3.5" fill="#fde0d9" opacity="0.8"/>
<circle cx="102" cy="154.8" r="3.5" fill="#fde0d9" opacity="0.8"/>
<circle cx="135" cy="168.8" r="3.5" fill="#fde0d9" opacity="0.8"/>
<circle cx="113.5" cy="179.2" r="3.5" fill="#fde0d9" opacity="0.8"/>
<circle cx="130" cy="176.8" r="3.5" fill="#fde0d9" opacity="0.8"/>
<circle cx="112.5" cy="151" r="5.4" fill="#a8a4d8" opacity="0.9"/>
<circle cx="106.3" cy="155.6" r="5.4" fill="#c4c4c4" opacity="0.9"/>
<circle cx="126.7" cy="153.7" r="5.4" fill="#a8a4d8" opacity="0.9"/>
<circle cx="131.3" cy="162.2" r="5.4" fill="#fac9be" opacity="0.9"/>
<circle cx="128.4" cy="169.1" r="5.4" fill="#c4c4c4" opacity="0.9"/>
<circle cx="106.5" cy="171.5" r="5.4" fill="#c4c4c4" opacity="0.9"/>
<circle cx="102.6" cy="163.3" r="5.4" fill="#fac9be" opacity="0.9"/>
<circle cx="113.4" cy="176.3" r="5.4" fill="#c4c4c4" opacity="0.9"/>
<circle cx="119.4" cy="148.4" r="5.4" fill="#c4c4c4" opacity="0.9"/>
<circle cx="118.5" cy="162.8" r="13.6" fill="#a0a0a0"/>
<g>
<circle cx="112.5" cy="151" r="4.4" fill="#7a72bb"/>
<circle cx="112.5" cy="151" r="3.5" fill="#8079c0"/>
<circle cx="112.5" cy="151" r="1.7" fill="#615aa8"/>
</g>
<g>
<circle cx="106.3" cy="155.6" r="4.4" fill="#9a9a9a"/>
<circle cx="106.3" cy="155.6" r="3.5" fill="#a9a9a9"/>
<circle cx="106.3" cy="155.6" r="1.7" fill="#7d7d7d"/>
</g>
<g>
<circle cx="126.7" cy="153.7" r="4.4" fill="#7a72bb"/>
<circle cx="126.7" cy="153.7" r="3.5" fill="#8079c0"/>
<circle cx="126.7" cy="153.7" r="1.7" fill="#615aa8"/>
</g>
<g>
<circle cx="131.3" cy="162.2" r="4.4" fill="#f4ab9b"/>
<circle cx="131.3" cy="162.2" r="3.5" fill="#f7b8aa"/>
<circle cx="131.3" cy="162.2" r="1.7" fill="#e58f7a"/>
</g>
<g>
<circle cx="128.4" cy="169.1" r="4.4" fill="#9a9a9a"/>
<circle cx="128.4" cy="169.1" r="3.5" fill="#a9a9a9"/>
<circle cx="128.4" cy="169.1" r="1.7" fill="#7d7d7d"/>
</g>
<g>
<circle cx="106.5" cy="171.5" r="4.4" fill="#9a9a9a"/>
<circle cx="106.5" cy="171.5" r="3.5" fill="#a9a9a9"/>
<circle cx="106.5" cy="171.5" r="1.7" fill="#7d7d7d"/>
</g>
<g>
<circle cx="102.6" cy="163.3" r="4.4" fill="#f4ab9b"/>
<circle cx="102.6" cy="163.3" r="3.5" fill="#f7b8aa"/>
<circle cx="102.6" cy="163.3" r="1.7" fill="#e58f7a"/>
</g>
<g>
<circle cx="113.4" cy="176.3" r="4.4" fill="#9a9a9a"/>
<circle cx="113.4" cy="176.3" r="3.5" fill="#a9a9a9"/>
<circle cx="113.4" cy="176.3" r="1.7" fill="#7d7d7d"/>
</g>
<g>
<circle cx="119.4" cy="148.4" r="4.4" fill="#9a9a9a"/>
<circle cx="119.4" cy="148.4" r="3.5" fill="#a9a9a9"/>
<circle cx="119.4" cy="148.4" r="1.7" fill="#7d7d7d"/>
</g>
<g>
<circle cx="119.25" cy="153.7" r="4.5" fill="#8e8e8e"/>
<circle cx="119.25" cy="153.7" r="3.6" fill="#a3a3a3"/>
<circle cx="119.25" cy="153.7" r="1.8" fill="#6a6a6a"/>
</g>
<g>
<circle cx="111.9" cy="158" r="4.5" fill="#8e8e8e"/>
<circle cx="111.9" cy="158" r="3.6" fill="#a3a3a3"/>
<circle cx="111.9" cy="158" r="1.8" fill="#6a6a6a"/>
</g>
<g>
<circle cx="124.25" cy="160.4" r="4.5" fill="#f2a290"/>
<circle cx="124.25" cy="160.4" r="3.6" fill="#f6b0a0"/>
<circle cx="124.25" cy="160.4" r="1.8" fill="#da755e"/>
</g>
<g>
<circle cx="118.5" cy="162.6" r="4.5" fill="#8e8e8e"/>
<circle cx="118.5" cy="162.6" r="3.6" fill="#a3a3a3"/>
<circle cx="118.5" cy="162.6" r="1.8" fill="#6a6a6a"/>
</g>
<g>
<circle cx="108.7" cy="164.3" r="4.5" fill="#5546a0"/>
<circle cx="108.7" cy="164.3" r="3.6" fill="#6657aa"/>
<circle cx="108.7" cy="164.3" r="1.8" fill="#24135f"/>
</g>
<g>
<circle cx="121.6" cy="169.4" r="4.5" fill="#5546a0"/>
<circle cx="121.6" cy="169.4" r="3.6" fill="#6657aa"/>
<circle cx="121.6" cy="169.4" r="1.8" fill="#24135f"/>
</g>
<g>
<circle cx="112.9" cy="170.8" r="4.5" fill="#f2a290"/>
<circle cx="112.9" cy="170.8" r="3.6" fill="#f6b0a0"/>
<circle cx="112.9" cy="170.8" r="1.8" fill="#da755e"/>
</g>
</g>
<line x1="107.88" y1="151.78" x2="107.69" y2="150.7" stroke="#2d6fb0" stroke-width="1.3"/>
<line x1="107.69" y1="150.7" x2="107.31" y2="148.53" stroke="#2d6fb0" stroke-width="1.3"/>
<line x1="103.82" y1="155.19" x2="102.79" y2="154.81" stroke="#2d6fb0" stroke-width="1.3"/>
<line x1="102.79" y1="154.81" x2="100.72" y2="154.06" stroke="#2d6fb0" stroke-width="1.3"/>
<line x1="104.74" y1="160.41" x2="103.9" y2="161.11" stroke="#2d6fb0" stroke-width="1.3"/>
<line x1="103.9" y1="161.11" x2="102.21" y2="162.53" stroke="#2d6fb0" stroke-width="1.3"/>
<line x1="109.72" y1="162.22" x2="109.91" y2="163.3" stroke="#2d6fb0" stroke-width="1.3"/>
<line x1="109.91" y1="163.3" x2="110.29" y2="165.47" stroke="#2d6fb0" stroke-width="1.3"/>
<line x1="113.78" y1="158.81" x2="114.81" y2="159.19" stroke="#2d6fb0" stroke-width="1.3"/>
<line x1="114.81" y1="159.19" x2="116.88" y2="159.94" stroke="#2d6fb0" stroke-width="1.3"/>
<line x1="112.86" y1="153.59" x2="113.7" y2="152.89" stroke="#2d6fb0" stroke-width="1.3"/>
<line x1="113.7" y1="152.89" x2="115.39" y2="151.47" stroke="#2d6fb0" stroke-width="1.3"/>
<circle cx="108.8" cy="157" r="5.1" fill="#b0e2bb"/>
<circle cx="108.8" cy="157" r="4" fill="#62c782"/>
<ellipse cx="108.8" cy="157.2" rx="2.7" ry="2.35" fill="#0f9a4d"/>
<line x1="126.3" y1="151.7" x2="126.3" y2="150.6" stroke="#2d6fb0" stroke-width="1.3"/>
<line x1="126.3" y1="150.6" x2="126.3" y2="148.4" stroke="#2d6fb0" stroke-width="1.3"/>
<line x1="121.71" y1="154.35" x2="120.76" y2="153.8" stroke="#2d6fb0" stroke-width="1.3"/>
<line x1="120.76" y1="153.8" x2="118.85" y2="152.7" stroke="#2d6fb0" stroke-width="1.3"/>
<line x1="121.71" y1="159.65" x2="120.76" y2="160.2" stroke="#2d6fb0" stroke-width="1.3"/>
<line x1="120.76" y1="160.2" x2="118.85" y2="161.3" stroke="#2d6fb0" stroke-width="1.3"/>
<line x1="126.3" y1="162.3" x2="126.3" y2="163.4" stroke="#2d6fb0" stroke-width="1.3"/>
<line x1="126.3" y1="163.4" x2="126.3" y2="165.6" stroke="#2d6fb0" stroke-width="1.3"/>
<line x1="130.89" y1="159.65" x2="131.84" y2="160.2" stroke="#2d6fb0" stroke-width="1.3"/>
<line x1="131.84" y1="160.2" x2="133.75" y2="161.3" stroke="#2d6fb0" stroke-width="1.3"/>
<line x1="130.89" y1="154.35" x2="131.84" y2="153.8" stroke="#2d6fb0" stroke-width="1.3"/>
<line x1="131.84" y1="153.8" x2="133.75" y2="152.7" stroke="#2d6fb0" stroke-width="1.3"/>
<circle cx="126.3" cy="157" r="5.1" fill="#b0e2bb"/>
<circle cx="126.3" cy="157" r="4" fill="#62c782"/>
<ellipse cx="126.3" cy="157.2" rx="2.7" ry="2.35" fill="#0f9a4d"/>
<line x1="115.89" y1="167.52" x2="115.51" y2="166.49" stroke="#2d6fb0" stroke-width="1.3"/>
<line x1="115.51" y1="166.49" x2="114.76" y2="164.42" stroke="#2d6fb0" stroke-width="1.3"/>
<line x1="112.48" y1="171.58" x2="111.4" y2="171.39" stroke="#2d6fb0" stroke-width="1.3"/>
<line x1="111.4" y1="171.39" x2="109.23" y2="171.01" stroke="#2d6fb0" stroke-width="1.3"/>
<line x1="114.29" y1="176.56" x2="113.59" y2="177.4" stroke="#2d6fb0" stroke-width="1.3"/>
<line x1="113.59" y1="177.4" x2="112.17" y2="179.09" stroke="#2d6fb0" stroke-width="1.3"/>
<line x1="119.51" y1="177.48" x2="119.89" y2="178.51" stroke="#2d6fb0" stroke-width="1.3"/>
<line x1="119.89" y1="178.51" x2="120.64" y2="180.58" stroke="#2d6fb0" stroke-width="1.3"/>
<line x1="122.92" y1="173.42" x2="124" y2="173.61" stroke="#2d6fb0" stroke-width="1.3"/>
<line x1="124" y1="173.61" x2="126.17" y2="173.99" stroke="#2d6fb0" stroke-width="1.3"/>
<line x1="121.11" y1="168.44" x2="121.81" y2="167.6" stroke="#2d6fb0" stroke-width="1.3"/>
<line x1="121.81" y1="167.6" x2="123.23" y2="165.91" stroke="#2d6fb0" stroke-width="1.3"/>
<circle cx="117.7" cy="172.5" r="5.1" fill="#b0e2bb"/>
<circle cx="117.7" cy="172.5" r="4" fill="#62c782"/>
<ellipse cx="117.7" cy="172.7" rx="2.7" ry="2.35" fill="#0f9a4d"/>
<g filter="url(#soft)">
<circle cx="190.4" cy="44.6" r="3.5" fill="#cdc8e4" opacity="0.8"/>
<circle cx="201.3" cy="44.4" r="3.5" fill="#cdc8e4" opacity="0.8"/>
<circle cx="179.8" cy="50" r="3.5" fill="#cdc8e4" opacity="0.8"/>
<circle cx="209.4" cy="53" r="3.5" fill="#cdc8e4" opacity="0.8"/>
<circle cx="176.8" cy="58.4" r="3.5" fill="#cdc8e4" opacity="0.8"/>
<circle cx="211.4" cy="61.8" r="3.5" fill="#cdc8e4" opacity="0.8"/>
<circle cx="178" cy="69" r="3.5" fill="#cdc8e4" opacity="0.8"/>
<circle cx="208" cy="73" r="3.5" fill="#cdc8e4" opacity="0.8"/>
<circle cx="184.4" cy="76.8" r="3.5" fill="#cdc8e4" opacity="0.8"/>
<circle cx="194" cy="78" r="3.5" fill="#cdc8e4" opacity="0.8"/>
<circle cx="201.4" cy="77" r="3.5" fill="#cdc8e4" opacity="0.8"/>
<circle cx="206.4" cy="47.4" r="3.5" fill="#cdc8e4" opacity="0.8"/>
<circle cx="177.4" cy="53.4" r="3.5" fill="#cdc8e4" opacity="0.8"/>
<circle cx="210.4" cy="67.4" r="3.5" fill="#cdc8e4" opacity="0.8"/>
<circle cx="188.9" cy="77.8" r="3.5" fill="#cdc8e4" opacity="0.8"/>
<circle cx="205.4" cy="75.4" r="3.5" fill="#cdc8e4" opacity="0.8"/>
<circle cx="187.9" cy="49.6" r="5.4" fill="#9a91c6" opacity="0.9"/>
<circle cx="181.7" cy="54.2" r="5.4" fill="#9a91c6" opacity="0.9"/>
<circle cx="202.1" cy="52.3" r="5.4" fill="#9a91c6" opacity="0.9"/>
<circle cx="206.7" cy="60.8" r="5.4" fill="#9a91c6" opacity="0.9"/>
<circle cx="203.8" cy="67.7" r="5.4" fill="#9a91c6" opacity="0.9"/>
<circle cx="181.9" cy="70.1" r="5.4" fill="#9a91c6" opacity="0.9"/>
<circle cx="178" cy="61.9" r="5.4" fill="#9a91c6" opacity="0.9"/>
<circle cx="188.8" cy="74.9" r="5.4" fill="#9a91c6" opacity="0.9"/>
<circle cx="194.8" cy="47" r="5.4" fill="#9a91c6" opacity="0.9"/>
<circle cx="193.9" cy="61.4" r="15.2" fill="#6a5da6"/>
<g>
<circle cx="187.9" cy="49.6" r="4.4" fill="#6c60a8"/>
<circle cx="187.9" cy="49.6" r="3.5" fill="#766aae"/>
<circle cx="187.9" cy="49.6" r="1.7" fill="#5a4f8c"/>
</g>
<g>
<circle cx="181.7" cy="54.2" r="4.4" fill="#6c60a8"/>
<circle cx="181.7" cy="54.2" r="3.5" fill="#766aae"/>
<circle cx="181.7" cy="54.2" r="1.7" fill="#5a4f8c"/>
</g>
<g>
<circle cx="202.1" cy="52.3" r="4.4" fill="#6c60a8"/>
<circle cx="202.1" cy="52.3" r="3.5" fill="#766aae"/>
<circle cx="202.1" cy="52.3" r="1.7" fill="#5a4f8c"/>
</g>
<g>
<circle cx="206.7" cy="60.8" r="4.4" fill="#6c60a8"/>
<circle cx="206.7" cy="60.8" r="3.5" fill="#766aae"/>
<circle cx="206.7" cy="60.8" r="1.7" fill="#5a4f8c"/>
</g>
<g>
<circle cx="203.8" cy="67.7" r="4.4" fill="#6c60a8"/>
<circle cx="203.8" cy="67.7" r="3.5" fill="#766aae"/>
<circle cx="203.8" cy="67.7" r="1.7" fill="#5a4f8c"/>
</g>
<g>
<circle cx="181.9" cy="70.1" r="4.4" fill="#6c60a8"/>
<circle cx="181.9" cy="70.1" r="3.5" fill="#766aae"/>
<circle cx="181.9" cy="70.1" r="1.7" fill="#5a4f8c"/>
</g>
<g>
<circle cx="178" cy="61.9" r="4.4" fill="#6c60a8"/>
<circle cx="178" cy="61.9" r="3.5" fill="#766aae"/>
<circle cx="178" cy="61.9" r="1.7" fill="#5a4f8c"/>
</g>
<g>
<circle cx="188.8" cy="74.9" r="4.4" fill="#6c60a8"/>
<circle cx="188.8" cy="74.9" r="3.5" fill="#766aae"/>
<circle cx="188.8" cy="74.9" r="1.7" fill="#5a4f8c"/>
</g>
<g>
<circle cx="194.8" cy="47" r="4.4" fill="#6c60a8"/>
<circle cx="194.8" cy="47" r="3.5" fill="#766aae"/>
<circle cx="194.8" cy="47" r="1.7" fill="#5a4f8c"/>
</g>
<g>
<circle cx="194.65" cy="52.3" r="4.5" fill="#5f529f"/>
<circle cx="194.65" cy="52.3" r="3.6" fill="#6a5da6"/>
<circle cx="194.65" cy="52.3" r="1.8" fill="#2a1a66"/>
</g>
<g>
<circle cx="187.3" cy="56.6" r="4.5" fill="#5f529f"/>
<circle cx="187.3" cy="56.6" r="3.6" fill="#6a5da6"/>
<circle cx="187.3" cy="56.6" r="1.8" fill="#2a1a66"/>
</g>
<g>
<circle cx="199.65" cy="59" r="4.5" fill="#5f529f"/>
<circle cx="199.65" cy="59" r="3.6" fill="#6a5da6"/>
<circle cx="199.65" cy="59" r="1.8" fill="#2a1a66"/>
</g>
<g>
<circle cx="193.9" cy="61.2" r="4.5" fill="#5f529f"/>
<circle cx="193.9" cy="61.2" r="3.6" fill="#6a5da6"/>
<circle cx="193.9" cy="61.2" r="1.8" fill="#2a1a66"/>
</g>
<g>
<circle cx="184.1" cy="62.9" r="4.5" fill="#5f529f"/>
<circle cx="184.1" cy="62.9" r="3.6" fill="#6a5da6"/>
<circle cx="184.1" cy="62.9" r="1.8" fill="#2a1a66"/>
</g>
<g>
<circle cx="197" cy="68" r="4.5" fill="#5f529f"/>
<circle cx="197" cy="68" r="3.6" fill="#6a5da6"/>
<circle cx="197" cy="68" r="1.8" fill="#2a1a66"/>
</g>
<g>
<circle cx="188.3" cy="69.4" r="4.5" fill="#5f529f"/>
<circle cx="188.3" cy="69.4" r="3.6" fill="#6a5da6"/>
<circle cx="188.3" cy="69.4" r="1.8" fill="#2a1a66"/>
</g>
</g>
<g filter="url(#soft)">
<circle cx="190" cy="95" r="3.5" fill="#cdc8e4" opacity="0.8"/>
<circle cx="200.9" cy="94.8" r="3.5" fill="#cdc8e4" opacity="0.8"/>
<circle cx="179.4" cy="100.4" r="3.5" fill="#cdc8e4" opacity="0.8"/>
<circle cx="209" cy="103.4" r="3.5" fill="#cdc8e4" opacity="0.8"/>
<circle cx="176.4" cy="108.8" r="3.5" fill="#cdc8e4" opacity="0.8"/>
<circle cx="211" cy="112.2" r="3.5" fill="#cdc8e4" opacity="0.8"/>
<circle cx="177.6" cy="119.4" r="3.5" fill="#cdc8e4" opacity="0.8"/>
<circle cx="207.6" cy="123.4" r="3.5" fill="#cdc8e4" opacity="0.8"/>
<circle cx="184" cy="127.2" r="3.5" fill="#cdc8e4" opacity="0.8"/>
<circle cx="193.6" cy="128.4" r="3.5" fill="#cdc8e4" opacity="0.8"/>
<circle cx="201" cy="127.4" r="3.5" fill="#cdc8e4" opacity="0.8"/>
<circle cx="206" cy="97.8" r="3.5" fill="#cdc8e4" opacity="0.8"/>
<circle cx="177" cy="103.8" r="3.5" fill="#cdc8e4" opacity="0.8"/>
<circle cx="210" cy="117.8" r="3.5" fill="#cdc8e4" opacity="0.8"/>
<circle cx="188.5" cy="128.2" r="3.5" fill="#cdc8e4" opacity="0.8"/>
<circle cx="205" cy="125.8" r="3.5" fill="#cdc8e4" opacity="0.8"/>
<circle cx="187.5" cy="100" r="5.4" fill="#9a91c6" opacity="0.9"/>
<circle cx="181.3" cy="104.6" r="5.4" fill="#9a91c6" opacity="0.9"/>
<circle cx="201.7" cy="102.7" r="5.4" fill="#9a91c6" opacity="0.9"/>
<circle cx="206.3" cy="111.2" r="5.4" fill="#9a91c6" opacity="0.9"/>
<circle cx="203.4" cy="118.1" r="5.4" fill="#9a91c6" opacity="0.9"/>
<circle cx="181.5" cy="120.5" r="5.4" fill="#9a91c6" opacity="0.9"/>
<circle cx="177.6" cy="112.3" r="5.4" fill="#9a91c6" opacity="0.9"/>
<circle cx="188.4" cy="125.3" r="5.4" fill="#9a91c6" opacity="0.9"/>
<circle cx="194.4" cy="97.4" r="5.4" fill="#9a91c6" opacity="0.9"/>
<circle cx="193.5" cy="111.8" r="15.2" fill="#6a5da6"/>
<g>
<circle cx="187.5" cy="100" r="4.4" fill="#6c60a8"/>
<circle cx="187.5" cy="100" r="3.5" fill="#766aae"/>
<circle cx="187.5" cy="100" r="1.7" fill="#5a4f8c"/>
</g>
<g>
<circle cx="181.3" cy="104.6" r="4.4" fill="#6c60a8"/>
<circle cx="181.3" cy="104.6" r="3.5" fill="#766aae"/>
<circle cx="181.3" cy="104.6" r="1.7" fill="#5a4f8c"/>
</g>
<g>
<circle cx="201.7" cy="102.7" r="4.4" fill="#6c60a8"/>
<circle cx="201.7" cy="102.7" r="3.5" fill="#766aae"/>
<circle cx="201.7" cy="102.7" r="1.7" fill="#5a4f8c"/>
</g>
<g>
<circle cx="206.3" cy="111.2" r="4.4" fill="#6c60a8"/>
<circle cx="206.3" cy="111.2" r="3.5" fill="#766aae"/>
<circle cx="206.3" cy="111.2" r="1.7" fill="#5a4f8c"/>
</g>
<g>
<circle cx="203.4" cy="118.1" r="4.4" fill="#6c60a8"/>
<circle cx="203.4" cy="118.1" r="3.5" fill="#766aae"/>
<circle cx="203.4" cy="118.1" r="1.7" fill="#5a4f8c"/>
</g>
<g>
<circle cx="181.5" cy="120.5" r="4.4" fill="#6c60a8"/>
<circle cx="181.5" cy="120.5" r="3.5" fill="#766aae"/>
<circle cx="181.5" cy="120.5" r="1.7" fill="#5a4f8c"/>
</g>
<g>
<circle cx="177.6" cy="112.3" r="4.4" fill="#6c60a8"/>
<circle cx="177.6" cy="112.3" r="3.5" fill="#766aae"/>
<circle cx="177.6" cy="112.3" r="1.7" fill="#5a4f8c"/>
</g>
<g>
<circle cx="188.4" cy="125.3" r="4.4" fill="#6c60a8"/>
<circle cx="188.4" cy="125.3" r="3.5" fill="#766aae"/>
<circle cx="188.4" cy="125.3" r="1.7" fill="#5a4f8c"/>
</g>
<g>
<circle cx="194.4" cy="97.4" r="4.4" fill="#6c60a8"/>
<circle cx="194.4" cy="97.4" r="3.5" fill="#766aae"/>
<circle cx="194.4" cy="97.4" r="1.7" fill="#5a4f8c"/>
</g>
<g>
<circle cx="194.25" cy="102.7" r="4.5" fill="#5f529f"/>
<circle cx="194.25" cy="102.7" r="3.6" fill="#6a5da6"/>
<circle cx="194.25" cy="102.7" r="1.8" fill="#2a1a66"/>
</g>
<g>
<circle cx="186.9" cy="107" r="4.5" fill="#5f529f"/>
<circle cx="186.9" cy="107" r="3.6" fill="#6a5da6"/>
<circle cx="186.9" cy="107" r="1.8" fill="#2a1a66"/>
</g>
<g>
<circle cx="199.25" cy="109.4" r="4.5" fill="#5f529f"/>
<circle cx="199.25" cy="109.4" r="3.6" fill="#6a5da6"/>
<circle cx="199.25" cy="109.4" r="1.8" fill="#2a1a66"/>
</g>
<g>
<circle cx="193.5" cy="111.6" r="4.5" fill="#5f529f"/>
<circle cx="193.5" cy="111.6" r="3.6" fill="#6a5da6"/>
<circle cx="193.5" cy="111.6" r="1.8" fill="#2a1a66"/>
</g>
<g>
<circle cx="183.7" cy="113.3" r="4.5" fill="#5f529f"/>
<circle cx="183.7" cy="113.3" r="3.6" fill="#6a5da6"/>
<circle cx="183.7" cy="113.3" r="1.8" fill="#2a1a66"/>
</g>
<g>
<circle cx="196.6" cy="118.4" r="4.5" fill="#5f529f"/>
<circle cx="196.6" cy="118.4" r="3.6" fill="#6a5da6"/>
<circle cx="196.6" cy="118.4" r="1.8" fill="#2a1a66"/>
</g>
<g>
<circle cx="187.9" cy="119.8" r="4.5" fill="#5f529f"/>
<circle cx="187.9" cy="119.8" r="3.6" fill="#6a5da6"/>
<circle cx="187.9" cy="119.8" r="1.8" fill="#2a1a66"/>
</g>
</g>
<g opacity="0.35" filter="url(#soft)">
<circle cx="178.9" cy="153.7" r="4.3" fill="#cfcfcf"/>
<circle cx="178.9" cy="153.7" r="3.3" fill="#9d9d9d"/>
<circle cx="178.9" cy="153.7" r="1.7" fill="#6f6f6f"/>
</g>
<g opacity="0.8" filter="url(#soft)">
<circle cx="192.9" cy="150.2" r="4.3" fill="#cfcfcf"/>
<circle cx="192.9" cy="150.2" r="3.3" fill="#9d9d9d"/>
<circle cx="192.9" cy="150.2" r="1.7" fill="#6f6f6f"/>
</g>
<g opacity="0.35" filter="url(#soft)">
<circle cx="203.9" cy="156.1" r="4.3" fill="#cfcfcf"/>
<circle cx="203.9" cy="156.1" r="3.3" fill="#9d9d9d"/>
<circle cx="203.9" cy="156.1" r="1.7" fill="#6f6f6f"/>
</g>
<g opacity="0.8" filter="url(#soft)">
<circle cx="178.3" cy="163.9" r="4.3" fill="#cfcfcf"/>
<circle cx="178.3" cy="163.9" r="3.3" fill="#9d9d9d"/>
<circle cx="178.3" cy="163.9" r="1.7" fill="#6f6f6f"/>
</g>
<g opacity="0.8" filter="url(#soft)">
<circle cx="191" cy="161" r="4.3" fill="#cfcfcf"/>
<circle cx="191" cy="161" r="3.3" fill="#9d9d9d"/>
<circle cx="191" cy="161" r="1.7" fill="#6f6f6f"/>
</g>
<g opacity="0.9" filter="url(#soft)">
<circle cx="203.1" cy="162.8" r="4.3" fill="#cfcfcf"/>
<circle cx="203.1" cy="162.8" r="3.3" fill="#9d9d9d"/>
<circle cx="203.1" cy="162.8" r="1.7" fill="#6f6f6f"/>
</g>
<g opacity="1.0" filter="url(#soft)">
<circle cx="194.5" cy="169.6" r="4.3" fill="#cfcfcf"/>
<circle cx="194.5" cy="169.6" r="3.3" fill="#9d9d9d"/>
<circle cx="194.5" cy="169.6" r="1.7" fill="#6f6f6f"/>
</g>
<g opacity="0.85" filter="url(#soft)">
<circle cx="187.5" cy="174.4" r="4.3" fill="#cfcfcf"/>
<circle cx="187.5" cy="174.4" r="3.3" fill="#9d9d9d"/>
<circle cx="187.5" cy="174.4" r="1.7" fill="#6f6f6f"/>
</g>
<g opacity="0.4" filter="url(#soft)">
<circle cx="201.7" cy="172.3" r="4.3" fill="#cfcfcf"/>
<circle cx="201.7" cy="172.3" r="3.3" fill="#9d9d9d"/>
<circle cx="201.7" cy="172.3" r="1.7" fill="#6f6f6f"/>
</g>
<text x="47.6" y="28.2" font-size="8" text-anchor="middle" textLength="64" lengthAdjust="spacingAndGlyphs">Heavily pre-treated</text>
<text x="47.4" y="36.8" font-size="8" text-anchor="middle" textLength="44.5" lengthAdjust="spacingAndGlyphs">DLBCL tumor</text>
<text x="79.8" y="73.7" font-size="8" text-anchor="middle" textLength="41.5" lengthAdjust="spacingAndGlyphs">CD19 CAR T</text>
<text x="79.8" y="82.7" font-size="8" text-anchor="middle" textLength="39" lengthAdjust="spacingAndGlyphs">cell therapy</text>
<text x="195" y="38" font-size="8" text-anchor="middle" textLength="60.8" lengthAdjust="spacingAndGlyphs">Refractory disease</text>
<text x="188.2" y="90" font-size="8" text-anchor="middle" textLength="64.5" lengthAdjust="spacingAndGlyphs">Progressive disease</text>
<text x="188.5" y="142" font-size="8" text-anchor="middle" textLength="65" lengthAdjust="spacingAndGlyphs">Complete response</text>
<line x1="231.1" y1="86.3" x2="231.1" y2="85.2" stroke="#2d6fb0" stroke-width="1"/>
<line x1="231.1" y1="85.2" x2="231.1" y2="83.8" stroke="#2d6fb0" stroke-width="1"/>
<line x1="228.33" y1="87.9" x2="227.38" y2="87.35" stroke="#2d6fb0" stroke-width="1"/>
<line x1="227.38" y1="87.35" x2="226.16" y2="86.65" stroke="#2d6fb0" stroke-width="1"/>
<line x1="228.33" y1="91.1" x2="227.38" y2="91.65" stroke="#2d6fb0" stroke-width="1"/>
<line x1="227.38" y1="91.65" x2="226.16" y2="92.35" stroke="#2d6fb0" stroke-width="1"/>
<line x1="231.1" y1="92.7" x2="231.1" y2="93.8" stroke="#2d6fb0" stroke-width="1"/>
<line x1="231.1" y1="93.8" x2="231.1" y2="95.2" stroke="#2d6fb0" stroke-width="1"/>
<line x1="233.87" y1="91.1" x2="234.82" y2="91.65" stroke="#2d6fb0" stroke-width="1"/>
<line x1="234.82" y1="91.65" x2="236.04" y2="92.35" stroke="#2d6fb0" stroke-width="1"/>
<line x1="233.87" y1="87.9" x2="234.82" y2="87.35" stroke="#2d6fb0" stroke-width="1"/>
<line x1="234.82" y1="87.35" x2="236.04" y2="86.65" stroke="#2d6fb0" stroke-width="1"/>
<circle cx="231.1" cy="89.5" r="3" fill="#b0e2bb"/>
<circle cx="231.1" cy="89.5" r="1.9" fill="#62c782"/>
<ellipse cx="231.1" cy="89.7" rx="1.54" ry="1.34" fill="#0f9a4d"/>
<g filter="url(#soft2)">
<circle cx="231" cy="101.6" r="5" fill="#5546a0"/>
<circle cx="231" cy="101.6" r="3.8" fill="#5b4ba6"/>
<circle cx="231" cy="101.6" r="2" fill="#24135f"/>
</g>
<g filter="url(#soft2)">
<circle cx="231" cy="113.2" r="5" fill="#f29b8a"/>
<circle cx="231" cy="113.2" r="3.8" fill="#f6ad9d"/>
<circle cx="231" cy="113.2" r="2" fill="#dc755f"/>
</g>
<g filter="url(#soft2)">
<circle cx="231" cy="125.7" r="5" fill="#878787"/>
<circle cx="231" cy="125.7" r="3.8" fill="#9c9c9c"/>
<circle cx="231" cy="125.7" r="2" fill="#5c5c5c"/>
</g>
<text x="238" y="92.3" font-size="8" textLength="55.5" lengthAdjust="spacingAndGlyphs">CD19 CAR T cell</text>
<text x="238" y="104.2" font-size="8" textLength="84.2" lengthAdjust="spacingAndGlyphs">CD19 mutated tumor cell</text>
<text x="238" y="115.8" font-size="8" textLength="67.5" lengthAdjust="spacingAndGlyphs">CD19 WT tumor cell</text>
<text x="238" y="128.2" font-size="8" textLength="53.5" lengthAdjust="spacingAndGlyphs">Dead tumor cell</text>
</g>
<g id="panel-b">
<text x="333.2" y="15.5" font-size="10.8" font-weight="bold" textLength="8" lengthAdjust="spacingAndGlyphs" fill="#000" stroke="#000" stroke-width="0.3">B</text>
<text x="438" y="25.9" font-size="10" text-anchor="middle" textLength="73" lengthAdjust="spacingAndGlyphs">CD19 expression</text>
<text x="451.2" y="43.1" font-size="8.6" text-anchor="middle" textLength="29.6" lengthAdjust="spacingAndGlyphs">p = 0.63</text>
<rect x="386.2" y="83.3" width="48.7" height="63.5" fill="#e18193"/>
<rect x="461.5" y="70.8" width="49" height="63" fill="#82a4c3"/>
<line x1="386.2" y1="101.6" x2="434.9" y2="101.6" stroke="#231f20" stroke-width="1.4"/>
<line x1="461.5" y1="90.2" x2="510.5" y2="90.2" stroke="#231f20" stroke-width="1.4"/>
<line x1="410.6" y1="57.7" x2="410.6" y2="162.7" stroke="#231f20" stroke-width="1.05"/>
<line x1="485.9" y1="44.7" x2="485.9" y2="149" stroke="#231f20" stroke-width="1.05"/>
<circle cx="418.2" cy="57.7" r="1.6" fill="#c4122f"/>
<circle cx="413.9" cy="62.7" r="1.6" fill="#c4122f"/>
<circle cx="400.6" cy="90" r="1.6" fill="#c4122f"/>
<circle cx="408.4" cy="90.4" r="1.6" fill="#c4122f"/>
<circle cx="403" cy="113.2" r="1.6" fill="#c4122f"/>
<circle cx="407.3" cy="141.8" r="1.6" fill="#c4122f"/>
<circle cx="410.6" cy="161.8" r="1.6" fill="#c4122f"/>
<circle cx="420.3" cy="162.7" r="1.6" fill="#c4122f"/>
<circle cx="499.1" cy="41.1" r="1.6" fill="#1d4f91"/>
<circle cx="473.8" cy="61" r="1.6" fill="#1d4f91"/>
<circle cx="490.4" cy="86.4" r="1.6" fill="#1d4f91"/>
<circle cx="489.4" cy="90.7" r="1.6" fill="#1d4f91"/>
<circle cx="472.8" cy="131.2" r="1.6" fill="#1d4f91"/>
<circle cx="489.7" cy="141.1" r="1.6" fill="#1d4f91"/>
<circle cx="494.2" cy="144.5" r="1.6" fill="#1d4f91"/>
<path d="M362.2 57.3V168.6H513.6" fill="none" stroke="#1a1a1a" stroke-width="1.4"/>
<line x1="359.6" y1="63.4" x2="362.2" y2="63.4" stroke="#231f20" stroke-width="1"/>
<text x="355.7" y="67.2" font-size="8.7" text-anchor="end" textLength="4.4" lengthAdjust="spacingAndGlyphs">1</text>
<line x1="359.6" y1="103.5" x2="362.2" y2="103.5" stroke="#231f20" stroke-width="1"/>
<text x="355.7" y="106.8" font-size="8.7" text-anchor="end" textLength="4.4" lengthAdjust="spacingAndGlyphs">0</text>
<line x1="359.6" y1="143.3" x2="362.2" y2="143.3" stroke="#231f20" stroke-width="1"/>
<text x="355.7" y="146.2" font-size="8.7" text-anchor="end" textLength="8.8" lengthAdjust="spacingAndGlyphs">−1</text>
<line x1="410.6" y1="168.6" x2="410.6" y2="171.3" stroke="#231f20" stroke-width="1"/>
<text x="411.2" y="181.3" font-size="8.6" text-anchor="middle" textLength="17.2" lengthAdjust="spacingAndGlyphs">Prog</text>
<line x1="485.9" y1="168.6" x2="485.9" y2="171.3" stroke="#231f20" stroke-width="1"/>
<text x="484.2" y="181.3" font-size="8.6" text-anchor="middle" textLength="30.5" lengthAdjust="spacingAndGlyphs">No prog</text>
<text x="341.7" y="103.4" font-size="10.4" text-anchor="middle" textLength="22.4" lengthAdjust="spacingAndGlyphs" transform="rotate(-90 341.7 103.4)">Z-score</text>
</g>
<g id="panel-c">
<text x="6.1" y="198.4" font-size="10.8" font-weight="bold" textLength="8.6" lengthAdjust="spacingAndGlyphs" fill="#000" stroke="#000" stroke-width="0.3">C</text>
<g shape-rendering="auto">
<rect x="41.3" y="204.4" width="8.15" height="4.1" fill="#fdd313"/>
<rect x="41.3" y="209.2" width="8.15" height="4.1" fill="#6a62b0"/>
<rect x="41.3" y="214" width="8.15" height="4.1" fill="#3db8ea"/>
<rect x="41.3" y="218.8" width="8.15" height="4.1" fill="#6d6d6d"/>
<rect x="50.44" y="204.4" width="8.15" height="4.1" fill="#fdd313"/>
<rect x="50.44" y="209.2" width="8.15" height="4.1" fill="#6a62b0"/>
<rect x="50.44" y="214" width="8.15" height="4.1" fill="#3db8ea"/>
<rect x="50.44" y="218.8" width="8.15" height="4.1" fill="#6d6d6d"/>
<rect x="59.58" y="204.4" width="8.15" height="4.1" fill="#fdd313"/>
<rect x="59.58" y="209.2" width="8.15" height="4.1" fill="#6a62b0"/>
<rect x="59.58" y="214" width="8.15" height="4.1" fill="#3db8ea"/>
<rect x="59.58" y="218.8" width="8.15" height="4.1" fill="#6d6d6d"/>
<rect x="68.72" y="204.4" width="8.15" height="4.1" fill="#fdd313"/>
<rect x="68.72" y="209.2" width="8.15" height="4.1" fill="#6a62b0"/>
<rect x="68.72" y="214" width="8.15" height="4.1" fill="#3db8ea"/>
<rect x="68.72" y="218.8" width="8.15" height="4.1" fill="#6d6d6d"/>
<rect x="77.86" y="204.4" width="8.15" height="4.1" fill="#fdd313"/>
<rect x="77.86" y="209.2" width="8.15" height="4.1" fill="#6a62b0"/>
<rect x="77.86" y="214" width="8.15" height="4.1" fill="#f4b9d6"/>
<rect x="77.86" y="218.8" width="8.15" height="4.1" fill="#6d6d6d"/>
<rect x="87" y="204.4" width="8.15" height="4.1" fill="#fdd313"/>
<rect x="87" y="209.2" width="8.15" height="4.1" fill="#6a62b0"/>
<rect x="87" y="214" width="8.15" height="4.1" fill="#f4b9d6"/>
<rect x="87" y="218.8" width="8.15" height="4.1" fill="#6d6d6d"/>
<rect x="96.14" y="204.4" width="8.15" height="4.1" fill="#fdd313"/>
<rect x="96.14" y="209.2" width="8.15" height="4.1" fill="#6a62b0"/>
<rect x="96.14" y="214" width="8.15" height="4.1" fill="#3db8ea"/>
<rect x="96.14" y="218.8" width="8.15" height="4.1" fill="#6d6d6d"/>
<rect x="105.28" y="204.4" width="8.15" height="4.1" fill="#d8eef2"/>
<rect x="105.28" y="209.2" width="8.15" height="4.1" fill="#6a62b0"/>
<rect x="105.28" y="214" width="8.15" height="4.1" fill="#3db8ea"/>
<rect x="105.28" y="218.8" width="8.15" height="4.1" fill="#6d6d6d"/>
<rect x="114.42" y="204.4" width="8.15" height="4.1" fill="#8b5e25"/>
<rect x="114.42" y="209.2" width="8.15" height="4.1" fill="#6a62b0"/>
<rect x="114.42" y="214" width="8.15" height="4.1" fill="#3db8ea"/>
<rect x="114.42" y="218.8" width="8.15" height="4.1" fill="#6d6d6d"/>
<rect x="123.56" y="204.4" width="8.15" height="4.1" fill="#8b5e25"/>
<rect x="123.56" y="209.2" width="8.15" height="4.1" fill="#6a62b0"/>
<rect x="123.56" y="214" width="8.15" height="4.1" fill="#3db8ea"/>
<rect x="123.56" y="218.8" width="8.15" height="4.1" fill="#6d6d6d"/>
<rect x="132.7" y="204.4" width="8.15" height="4.1" fill="#8b5e25"/>
<rect x="132.7" y="209.2" width="8.15" height="4.1" fill="#6a62b0"/>
<rect x="132.7" y="214" width="8.15" height="4.1" fill="#3db8ea"/>
<rect x="132.7" y="218.8" width="8.15" height="4.1" fill="#6d6d6d"/>
<rect x="141.84" y="204.4" width="8.15" height="4.1" fill="#fdd313"/>
<rect x="141.84" y="209.2" width="8.15" height="4.1" fill="#6a62b0"/>
<rect x="141.84" y="214" width="8.15" height="4.1" fill="#f4b9d6"/>
<rect x="141.84" y="218.8" width="8.15" height="4.1" fill="#6d6d6d"/>
<rect x="150.98" y="204.4" width="8.15" height="4.1" fill="#fdd313"/>
<rect x="150.98" y="209.2" width="8.15" height="4.1" fill="#6a62b0"/>
<rect x="150.98" y="214" width="8.15" height="4.1" fill="#3db8ea"/>
<rect x="150.98" y="218.8" width="8.15" height="4.1" fill="#6d6d6d"/>
<rect x="160.12" y="204.4" width="8.15" height="4.1" fill="#fdd313"/>
<rect x="160.12" y="209.2" width="8.15" height="4.1" fill="#6a62b0"/>
<rect x="160.12" y="214" width="8.15" height="4.1" fill="#3db8ea"/>
<rect x="160.12" y="218.8" width="8.15" height="4.1" fill="#6d6d6d"/>
<rect x="169.26" y="204.4" width="8.15" height="4.1" fill="#fdd313"/>
<rect x="169.26" y="209.2" width="8.15" height="4.1" fill="#6a62b0"/>
<rect x="169.26" y="214" width="8.15" height="4.1" fill="#3db8ea"/>
<rect x="169.26" y="218.8" width="8.15" height="4.1" fill="#6d6d6d"/>
<rect x="178.4" y="204.4" width="8.15" height="4.1" fill="#fdd313"/>
<rect x="178.4" y="209.2" width="8.15" height="4.1" fill="#6a62b0"/>
<rect x="178.4" y="214" width="8.15" height="4.1" fill="#3db8ea"/>
<rect x="178.4" y="218.8" width="8.15" height="4.1" fill="#6d6d6d"/>
<rect x="187.54" y="204.4" width="8.15" height="4.1" fill="#8b5e25"/>
<rect x="187.54" y="209.2" width="8.15" height="4.1" fill="#6a62b0"/>
<rect x="187.54" y="214" width="8.15" height="4.1" fill="#f4b9d6"/>
<rect x="187.54" y="218.8" width="8.15" height="4.1" fill="#6d6d6d"/>
<rect x="196.68" y="204.4" width="8.15" height="4.1" fill="#fdd313"/>
<rect x="196.68" y="209.2" width="8.15" height="4.1" fill="#6a62b0"/>
<rect x="196.68" y="214" width="8.15" height="4.1" fill="#3db8ea"/>
<rect x="196.68" y="218.8" width="8.15" height="4.1" fill="#6d6d6d"/>
<rect x="205.82" y="204.4" width="8.15" height="4.1" fill="#8b5e25"/>
<rect x="205.82" y="209.2" width="8.15" height="4.1" fill="#8a6399"/>
<rect x="205.82" y="214" width="8.15" height="4.1" fill="#3db8ea"/>
<rect x="205.82" y="218.8" width="8.15" height="4.1" fill="#1b2375"/>
<rect x="214.96" y="204.4" width="8.15" height="4.1" fill="#fdd313"/>
<rect x="214.96" y="209.2" width="8.15" height="4.1" fill="#8a6399"/>
<rect x="214.96" y="214" width="8.15" height="4.1" fill="#f4b9d6"/>
<rect x="214.96" y="218.8" width="8.15" height="4.1" fill="#b0181e"/>
<rect x="224.1" y="204.4" width="8.15" height="4.1" fill="#fdd313"/>
<rect x="224.1" y="209.2" width="8.15" height="4.1" fill="#8a6399"/>
<rect x="224.1" y="214" width="8.15" height="4.1" fill="#3db8ea"/>
<rect x="224.1" y="218.8" width="8.15" height="4.1" fill="#b0181e"/>
<rect x="233.24" y="204.4" width="8.15" height="4.1" fill="#8b5e25"/>
<rect x="233.24" y="209.2" width="8.15" height="4.1" fill="#8a6399"/>
<rect x="233.24" y="214" width="8.15" height="4.1" fill="#3db8ea"/>
<rect x="233.24" y="218.8" width="8.15" height="4.1" fill="#b0181e"/>
<rect x="242.38" y="204.4" width="8.15" height="4.1" fill="#fdd313"/>
<rect x="242.38" y="209.2" width="8.15" height="4.1" fill="#8a6399"/>
<rect x="242.38" y="214" width="8.15" height="4.1" fill="#3db8ea"/>
<rect x="242.38" y="218.8" width="8.15" height="4.1" fill="#b0181e"/>
<rect x="251.52" y="204.4" width="8.15" height="4.1" fill="#8b5e25"/>
<rect x="251.52" y="209.2" width="8.15" height="4.1" fill="#6a62b0"/>
<rect x="251.52" y="214" width="8.15" height="4.1" fill="#3db8ea"/>
<rect x="251.52" y="218.8" width="8.15" height="4.1" fill="#b0181e"/>
<rect x="260.66" y="204.4" width="8.15" height="4.1" fill="#fdd313"/>
<rect x="260.66" y="209.2" width="8.15" height="4.1" fill="#8a6399"/>
<rect x="260.66" y="214" width="8.15" height="4.1" fill="#3db8ea"/>
<rect x="260.66" y="218.8" width="8.15" height="4.1" fill="#b0181e"/>
<rect x="269.8" y="204.4" width="8.15" height="4.1" fill="#fdd313"/>
<rect x="269.8" y="209.2" width="8.15" height="4.1" fill="#8a6399"/>
<rect x="269.8" y="214" width="8.15" height="4.1" fill="#3db8ea"/>
<rect x="269.8" y="218.8" width="8.15" height="4.1" fill="#b0181e"/>
<rect x="278.94" y="204.4" width="8.15" height="4.1" fill="#fdd313"/>
<rect x="278.94" y="209.2" width="8.15" height="4.1" fill="#8a6399"/>
<rect x="278.94" y="214" width="8.15" height="4.1" fill="#3db8ea"/>
<rect x="278.94" y="218.8" width="8.15" height="4.1" fill="#b0181e"/>
<rect x="288.08" y="204.4" width="8.15" height="4.1" fill="#8b5e25"/>
<rect x="288.08" y="209.2" width="8.15" height="4.1" fill="#8a6399"/>
<rect x="288.08" y="214" width="8.15" height="4.1" fill="#3db8ea"/>
<rect x="288.08" y="218.8" width="8.15" height="4.1" fill="#b0181e"/>
<rect x="297.22" y="204.4" width="8.15" height="4.1" fill="#8b5e25"/>
<rect x="297.22" y="209.2" width="8.15" height="4.1" fill="#6a62b0"/>
<rect x="297.22" y="214" width="8.15" height="4.1" fill="#3db8ea"/>
<rect x="297.22" y="218.8" width="8.15" height="4.1" fill="#b0181e"/>
<rect x="306.36" y="204.4" width="8.15" height="4.1" fill="#fdd313"/>
<rect x="306.36" y="209.2" width="8.15" height="4.1" fill="#8a6399"/>
<rect x="306.36" y="214" width="8.15" height="4.1" fill="#3db8ea"/>
<rect x="306.36" y="218.8" width="8.15" height="4.1" fill="#b0181e"/>
<rect x="315.5" y="204.4" width="8.15" height="4.1" fill="#8b5e25"/>
<rect x="315.5" y="209.2" width="8.15" height="4.1" fill="#8a6399"/>
<rect x="315.5" y="214" width="8.15" height="4.1" fill="#3db8ea"/>
<rect x="315.5" y="218.8" width="8.15" height="4.1" fill="#b0181e"/>
<rect x="324.64" y="204.4" width="8.15" height="4.1" fill="#fdd313"/>
<rect x="324.64" y="209.2" width="8.15" height="4.1" fill="#8a6399"/>
<rect x="324.64" y="214" width="8.15" height="4.1" fill="#3db8ea"/>
<rect x="324.64" y="218.8" width="8.15" height="4.1" fill="#b0181e"/>
<rect x="333.78" y="204.4" width="8.15" height="4.1" fill="#fdd313"/>
<rect x="333.78" y="209.2" width="8.15" height="4.1" fill="#8a6399"/>
<rect x="333.78" y="214" width="8.15" height="4.1" fill="#3db8ea"/>
<rect x="333.78" y="218.8" width="8.15" height="4.1" fill="#b0181e"/>
<rect x="342.92" y="204.4" width="8.15" height="4.1" fill="#8b5e25"/>
<rect x="342.92" y="209.2" width="8.15" height="4.1" fill="#8a6399"/>
<rect x="342.92" y="214" width="8.15" height="4.1" fill="#3db8ea"/>
<rect x="342.92" y="218.8" width="8.15" height="4.1" fill="#b0181e"/>
<rect x="352.06" y="204.4" width="8.15" height="4.1" fill="#fdd313"/>
<rect x="352.06" y="209.2" width="8.15" height="4.1" fill="#8a6399"/>
<rect x="352.06" y="214" width="8.15" height="4.1" fill="#3db8ea"/>
<rect x="352.06" y="218.8" width="8.15" height="4.1" fill="#b0181e"/>
<rect x="361.2" y="204.4" width="8.15" height="4.1" fill="#fdd313"/>
<rect x="361.2" y="209.2" width="8.15" height="4.1" fill="#6a62b0"/>
<rect x="361.2" y="214" width="8.15" height="4.1" fill="#3db8ea"/>
<rect x="361.2" y="218.8" width="8.15" height="4.1" fill="#b0181e"/>
<rect x="370.34" y="204.4" width="8.15" height="4.1" fill="#fdd313"/>
<rect x="370.34" y="209.2" width="8.15" height="4.1" fill="#8a6399"/>
<rect x="370.34" y="214" width="8.15" height="4.1" fill="#3db8ea"/>
<rect x="370.34" y="218.8" width="8.15" height="4.1" fill="#b0181e"/>
<rect x="379.48" y="204.4" width="8.15" height="4.1" fill="#8b5e25"/>
<rect x="379.48" y="209.2" width="8.15" height="4.1" fill="#8a6399"/>
<rect x="379.48" y="214" width="8.15" height="4.1" fill="#3db8ea"/>
<rect x="379.48" y="218.8" width="8.15" height="4.1" fill="#b0181e"/>
<rect x="388.62" y="204.4" width="8.15" height="4.1" fill="#fdd313"/>
<rect x="388.62" y="209.2" width="8.15" height="4.1" fill="#6a62b0"/>
<rect x="388.62" y="214" width="8.15" height="4.1" fill="#3db8ea"/>
<rect x="388.62" y="218.8" width="8.15" height="4.1" fill="#b0181e"/>
<rect x="397.76" y="204.4" width="8.15" height="4.1" fill="#8b5e25"/>
<rect x="397.76" y="209.2" width="8.15" height="4.1" fill="#8a6399"/>
<rect x="397.76" y="214" width="8.15" height="4.1" fill="#f4b9d6"/>
<rect x="397.76" y="218.8" width="8.15" height="4.1" fill="#b0181e"/>
<rect x="406.9" y="204.4" width="8.15" height="4.1" fill="#8b5e25"/>
<rect x="406.9" y="209.2" width="8.15" height="4.1" fill="#8a6399"/>
<rect x="406.9" y="214" width="8.15" height="4.1" fill="#3db8ea"/>
<rect x="406.9" y="218.8" width="8.15" height="4.1" fill="#b0181e"/>
<rect x="416.04" y="204.4" width="8.15" height="4.1" fill="#8b5e25"/>
<rect x="416.04" y="209.2" width="8.15" height="4.1" fill="#8a6399"/>
<rect x="416.04" y="214" width="8.15" height="4.1" fill="#3db8ea"/>
<rect x="416.04" y="218.8" width="8.15" height="4.1" fill="#b0181e"/>
<rect x="425.18" y="204.4" width="8.15" height="4.1" fill="#fdd313"/>
<rect x="425.18" y="209.2" width="8.15" height="4.1" fill="#8a6399"/>
<rect x="425.18" y="214" width="8.15" height="4.1" fill="#f4b9d6"/>
<rect x="425.18" y="218.8" width="8.15" height="4.1" fill="#b0181e"/>
<rect x="434.32" y="204.4" width="8.15" height="4.1" fill="#8b5e25"/>
<rect x="434.32" y="209.2" width="8.15" height="4.1" fill="#8a6399"/>
<rect x="434.32" y="214" width="8.15" height="4.1" fill="#3db8ea"/>
<rect x="434.32" y="218.8" width="8.15" height="4.1" fill="#b0181e"/>
<rect x="443.46" y="204.4" width="8.15" height="4.1" fill="#8b5e25"/>
<rect x="443.46" y="209.2" width="8.15" height="4.1" fill="#8a6399"/>
<rect x="443.46" y="214" width="8.15" height="4.1" fill="#3db8ea"/>
<rect x="443.46" y="218.8" width="8.15" height="4.1" fill="#b0181e"/>
<rect x="452.6" y="204.4" width="8.15" height="4.1" fill="#fdd313"/>
<rect x="452.6" y="209.2" width="8.15" height="4.1" fill="#8a6399"/>
<rect x="452.6" y="214" width="8.15" height="4.1" fill="#3db8ea"/>
<rect x="452.6" y="218.8" width="8.15" height="4.1" fill="#b0181e"/>
<rect x="461.74" y="204.4" width="8.15" height="4.1" fill="#8b5e25"/>
<rect x="461.74" y="209.2" width="8.15" height="4.1" fill="#8a6399"/>
<rect x="461.74" y="214" width="8.15" height="4.1" fill="#3db8ea"/>
<rect x="461.74" y="218.8" width="8.15" height="4.1" fill="#b0181e"/>
<rect x="475.2" y="204.4" width="8.15" height="4.1" fill="#8b5e25"/>
<rect x="475.2" y="209.2" width="8.15" height="4.1" fill="#6a62b0"/>
<rect x="475.2" y="214" width="8.15" height="4.1" fill="#f4b9d6"/>
<rect x="475.2" y="218.8" width="8.15" height="4.1" fill="#b0181e"/>
<rect x="484.47" y="204.4" width="8.15" height="4.1" fill="#8b5e25"/>
<rect x="484.47" y="209.2" width="8.15" height="4.1" fill="#6a62b0"/>
<rect x="484.47" y="214" width="8.15" height="4.1" fill="#f6c9df"/>
<rect x="484.47" y="218.8" width="8.15" height="4.1" fill="#b0181e"/>
<rect x="493.74" y="204.4" width="8.15" height="4.1" fill="#fdd313"/>
<rect x="493.74" y="209.2" width="8.15" height="4.1" fill="#8a6399"/>
<rect x="493.74" y="214" width="8.15" height="4.1" fill="#a3d486"/>
<rect x="493.74" y="218.8" width="8.15" height="4.1" fill="#b0181e"/>
<rect x="503.01" y="204.4" width="8.15" height="4.1" fill="#fdd313"/>
<rect x="503.01" y="209.2" width="8.15" height="4.1" fill="#8a6399"/>
<rect x="503.01" y="214" width="8.15" height="4.1" fill="#a3d486"/>
<rect x="503.01" y="218.8" width="8.15" height="4.1" fill="#b0181e"/>
</g>
<g>
<rect x="41.3" y="232.4" width="8.15" height="6.8" fill="#1b9e77"/>
<rect x="41.3" y="238.6" width="8.15" height="42" fill="#7570b3"/>
<rect x="41.3" y="280" width="8.15" height="13" fill="#e7298a"/>
<rect x="41.3" y="292.4" width="8.15" height="35" fill="#66a646"/>
<rect x="50.44" y="232.4" width="8.15" height="15.2" fill="#1b9e77"/>
<rect x="50.44" y="247" width="8.15" height="56.6" fill="#7570b3"/>
<rect x="50.44" y="303" width="8.15" height="9" fill="#e7298a"/>
<rect x="50.44" y="311.4" width="8.15" height="16" fill="#66a646"/>
<rect x="59.58" y="232.4" width="8.15" height="7.6" fill="#1b9e77"/>
<rect x="59.58" y="239.4" width="8.15" height="45.8" fill="#7570b3"/>
<rect x="59.58" y="284.6" width="8.15" height="22" fill="#e7298a"/>
<rect x="59.58" y="306" width="8.15" height="13.2" fill="#66a646"/>
<rect x="59.58" y="318.6" width="8.15" height="7.6" fill="#666666"/>
<rect x="59.58" y="325.6" width="8.15" height="1.8" fill="#b3a9dc"/>
<rect x="68.72" y="232.4" width="8.15" height="8.2" fill="#1b9e77"/>
<rect x="68.72" y="240" width="8.15" height="37.6" fill="#7570b3"/>
<rect x="68.72" y="277" width="8.15" height="14.6" fill="#e7298a"/>
<rect x="68.72" y="291" width="8.15" height="25.2" fill="#66a646"/>
<rect x="68.72" y="315.6" width="8.15" height="10.6" fill="#666666"/>
<rect x="68.72" y="325.6" width="8.15" height="1.8" fill="#b5202a"/>
<rect x="77.86" y="232.4" width="8.15" height="7.2" fill="#1b9e77"/>
<rect x="77.86" y="239" width="8.15" height="46.2" fill="#7570b3"/>
<rect x="77.86" y="284.6" width="8.15" height="17.4" fill="#e7298a"/>
<rect x="77.86" y="301.4" width="8.15" height="26" fill="#66a646"/>
<rect x="87" y="232.4" width="8.15" height="5.8" fill="#1b9e77"/>
<rect x="87" y="237.6" width="8.15" height="39.6" fill="#7570b3"/>
<rect x="87" y="276.6" width="8.15" height="16.4" fill="#e7298a"/>
<rect x="87" y="292.4" width="8.15" height="19.8" fill="#66a646"/>
<rect x="87" y="311.6" width="8.15" height="11.4" fill="#666666"/>
<rect x="87" y="322.4" width="8.15" height="5" fill="#b5202a"/>
<rect x="96.14" y="232.4" width="8.15" height="8.2" fill="#1b9e77"/>
<rect x="96.14" y="240" width="8.15" height="58.2" fill="#7570b3"/>
<rect x="96.14" y="297.6" width="8.15" height="15.4" fill="#e7298a"/>
<rect x="96.14" y="312.4" width="8.15" height="11.2" fill="#66a646"/>
<rect x="96.14" y="323" width="8.15" height="4.4" fill="#b3a9dc"/>
<rect x="105.28" y="232.4" width="8.15" height="5.2" fill="#1b9e77"/>
<rect x="105.28" y="237" width="8.15" height="34" fill="#7570b3"/>
<rect x="105.28" y="270.4" width="8.15" height="14.2" fill="#e7298a"/>
<rect x="105.28" y="284" width="8.15" height="43.4" fill="#66a646"/>
<rect x="114.42" y="232.4" width="8.15" height="10.2" fill="#1b9e77"/>
<rect x="114.42" y="242" width="8.15" height="36.2" fill="#7570b3"/>
<rect x="114.42" y="277.6" width="8.15" height="16.4" fill="#e7298a"/>
<rect x="114.42" y="293.4" width="8.15" height="26.8" fill="#66a646"/>
<rect x="114.42" y="319.6" width="8.15" height="7.8" fill="#a6762c"/>
<rect x="123.56" y="232.4" width="8.15" height="5.2" fill="#1b9e77"/>
<rect x="123.56" y="237" width="8.15" height="36.2" fill="#7570b3"/>
<rect x="123.56" y="272.6" width="8.15" height="11.4" fill="#e7298a"/>
<rect x="123.56" y="283.4" width="8.15" height="44" fill="#66a646"/>
<rect x="132.7" y="232.4" width="8.15" height="5.2" fill="#1b9e77"/>
<rect x="132.7" y="237" width="8.15" height="23.2" fill="#7570b3"/>
<rect x="132.7" y="259.6" width="8.15" height="67.8" fill="#66a646"/>
<rect x="141.84" y="232.4" width="8.15" height="7.2" fill="#1b9e77"/>
<rect x="141.84" y="239" width="8.15" height="40.6" fill="#7570b3"/>
<rect x="141.84" y="279" width="8.15" height="14.6" fill="#e7298a"/>
<rect x="141.84" y="293" width="8.15" height="34.4" fill="#66a646"/>
<rect x="150.98" y="232.4" width="8.15" height="8.2" fill="#1b9e77"/>
<rect x="150.98" y="240" width="8.15" height="47" fill="#7570b3"/>
<rect x="150.98" y="286.4" width="8.15" height="17.6" fill="#e7298a"/>
<rect x="150.98" y="303.4" width="8.15" height="21.2" fill="#66a646"/>
<rect x="150.98" y="324" width="8.15" height="3.4" fill="#b5202a"/>
<rect x="160.12" y="232.4" width="8.15" height="7.2" fill="#1b9e77"/>
<rect x="160.12" y="239" width="8.15" height="31.2" fill="#7570b3"/>
<rect x="160.12" y="269.6" width="8.15" height="13.6" fill="#e7298a"/>
<rect x="160.12" y="282.6" width="8.15" height="39.6" fill="#66a646"/>
<rect x="160.12" y="321.6" width="8.15" height="5.4" fill="#f7b1c3"/>
<rect x="160.12" y="326.4" width="8.15" height="1" fill="#b3a9dc"/>
<rect x="169.26" y="232.4" width="8.15" height="9.6" fill="#1b9e77"/>
<rect x="169.26" y="241.4" width="8.15" height="52.6" fill="#7570b3"/>
<rect x="169.26" y="293.4" width="8.15" height="19.2" fill="#e7298a"/>
<rect x="169.26" y="312" width="8.15" height="11.6" fill="#66a646"/>
<rect x="169.26" y="323" width="8.15" height="4.4" fill="#b5202a"/>
<rect x="178.4" y="232.4" width="8.15" height="9.2" fill="#1b9e77"/>
<rect x="178.4" y="241" width="8.15" height="60" fill="#7570b3"/>
<rect x="178.4" y="300.4" width="8.15" height="8.8" fill="#e7298a"/>
<rect x="178.4" y="308.6" width="8.15" height="15.4" fill="#66a646"/>
<rect x="178.4" y="323.4" width="8.15" height="4" fill="#f7b1c3"/>
<rect x="187.54" y="232.4" width="8.15" height="7.2" fill="#1b9e77"/>
<rect x="187.54" y="239" width="8.15" height="36.6" fill="#7570b3"/>
<rect x="187.54" y="275" width="8.15" height="21.2" fill="#e7298a"/>
<rect x="187.54" y="295.6" width="8.15" height="16.6" fill="#66a646"/>
<rect x="187.54" y="311.6" width="8.15" height="4.4" fill="#666666"/>
<rect x="187.54" y="315.4" width="8.15" height="7.2" fill="#b5202a"/>
<rect x="187.54" y="322" width="8.15" height="2.2" fill="#f3f3f3"/>
<rect x="187.54" y="323.6" width="8.15" height="3.8" fill="#b3a9dc"/>
<rect x="196.68" y="232.4" width="8.15" height="7.2" fill="#1b9e77"/>
<rect x="196.68" y="239" width="8.15" height="5" fill="#d95f28"/>
<rect x="196.68" y="243.4" width="8.15" height="40.8" fill="#7570b3"/>
<rect x="196.68" y="283.6" width="8.15" height="9.4" fill="#e7298a"/>
<rect x="196.68" y="292.4" width="8.15" height="23.6" fill="#66a646"/>
<rect x="196.68" y="315.4" width="8.15" height="8.8" fill="#a6762c"/>
<rect x="196.68" y="323.6" width="8.15" height="3.8" fill="#c6e8f8"/>
<rect x="205.82" y="232.4" width="8.15" height="7.2" fill="#1b9e77"/>
<rect x="205.82" y="239" width="8.15" height="47.2" fill="#7570b3"/>
<rect x="205.82" y="285.6" width="8.15" height="13" fill="#e7298a"/>
<rect x="205.82" y="298" width="8.15" height="29.4" fill="#66a646"/>
<rect x="214.96" y="232.4" width="8.15" height="5.6" fill="#1b9e77"/>
<rect x="214.96" y="237.4" width="8.15" height="37.2" fill="#7570b3"/>
<rect x="214.96" y="274" width="8.15" height="13.2" fill="#e7298a"/>
<rect x="214.96" y="286.6" width="8.15" height="39" fill="#66a646"/>
<rect x="214.96" y="325" width="8.15" height="2.4" fill="#666666"/>
<rect x="224.1" y="232.4" width="8.15" height="6.2" fill="#1b9e77"/>
<rect x="224.1" y="238" width="8.15" height="55" fill="#7570b3"/>
<rect x="224.1" y="292.4" width="8.15" height="7.6" fill="#e7298a"/>
<rect x="224.1" y="299.4" width="8.15" height="21.6" fill="#66a646"/>
<rect x="224.1" y="320.4" width="8.15" height="7" fill="#c6e8f8"/>
<rect x="233.24" y="232.4" width="8.15" height="6.2" fill="#1b9e77"/>
<rect x="233.24" y="238" width="8.15" height="45.6" fill="#7570b3"/>
<rect x="233.24" y="283" width="8.15" height="13.2" fill="#e7298a"/>
<rect x="233.24" y="295.6" width="8.15" height="31.8" fill="#66a646"/>
<rect x="242.38" y="232.4" width="8.15" height="7.2" fill="#1b9e77"/>
<rect x="242.38" y="239" width="8.15" height="42" fill="#7570b3"/>
<rect x="242.38" y="280.4" width="8.15" height="7.8" fill="#e7298a"/>
<rect x="242.38" y="287.6" width="8.15" height="17.6" fill="#66a646"/>
<rect x="242.38" y="304.6" width="8.15" height="9.6" fill="#a6762c"/>
<rect x="242.38" y="313.6" width="8.15" height="4" fill="#666666"/>
<rect x="242.38" y="317" width="8.15" height="9.6" fill="#b5202a"/>
<rect x="242.38" y="326" width="8.15" height="1.4" fill="#b3a9dc"/>
<rect x="251.52" y="232.4" width="8.15" height="11.2" fill="#1b9e77"/>
<rect x="251.52" y="243" width="8.15" height="45.2" fill="#7570b3"/>
<rect x="251.52" y="287.6" width="8.15" height="23.6" fill="#e7298a"/>
<rect x="251.52" y="310.6" width="8.15" height="14.4" fill="#66a646"/>
<rect x="251.52" y="324.4" width="8.15" height="3" fill="#b5202a"/>
<rect x="260.66" y="232.4" width="8.15" height="9.2" fill="#1b9e77"/>
<rect x="260.66" y="241" width="8.15" height="37" fill="#7570b3"/>
<rect x="260.66" y="277.4" width="8.15" height="15.8" fill="#e7298a"/>
<rect x="260.66" y="292.6" width="8.15" height="34.8" fill="#66a646"/>
<rect x="269.8" y="232.4" width="8.15" height="8.8" fill="#1b9e77"/>
<rect x="269.8" y="240.6" width="8.15" height="43" fill="#7570b3"/>
<rect x="269.8" y="283" width="8.15" height="16.6" fill="#e7298a"/>
<rect x="269.8" y="299" width="8.15" height="21.2" fill="#66a646"/>
<rect x="269.8" y="319.6" width="8.15" height="7.8" fill="#a6762c"/>
<rect x="278.94" y="232.4" width="8.15" height="11.6" fill="#1b9e77"/>
<rect x="278.94" y="243.4" width="8.15" height="39.6" fill="#7570b3"/>
<rect x="278.94" y="282.4" width="8.15" height="13.2" fill="#e7298a"/>
<rect x="278.94" y="295" width="8.15" height="21.2" fill="#66a646"/>
<rect x="278.94" y="315.6" width="8.15" height="10.6" fill="#a6762c"/>
<rect x="278.94" y="325.6" width="8.15" height="1.8" fill="#b5202a"/>
<rect x="288.08" y="232.4" width="8.15" height="5.2" fill="#1b9e77"/>
<rect x="288.08" y="237" width="8.15" height="35.6" fill="#7570b3"/>
<rect x="288.08" y="272" width="8.15" height="17.6" fill="#e7298a"/>
<rect x="288.08" y="289" width="8.15" height="23.6" fill="#66a646"/>
<rect x="288.08" y="312" width="8.15" height="10.2" fill="#a6762c"/>
<rect x="288.08" y="321.6" width="8.15" height="5.8" fill="#c6e8f8"/>
<rect x="297.22" y="232.4" width="8.15" height="8.2" fill="#1b9e77"/>
<rect x="297.22" y="240" width="8.15" height="47.6" fill="#7570b3"/>
<rect x="297.22" y="287" width="8.15" height="15.6" fill="#e7298a"/>
<rect x="297.22" y="302" width="8.15" height="23.6" fill="#66a646"/>
<rect x="297.22" y="325" width="8.15" height="2.4" fill="#b3a9dc"/>
<rect x="306.36" y="232.4" width="8.15" height="10.6" fill="#1b9e77"/>
<rect x="306.36" y="242.4" width="8.15" height="49.6" fill="#7570b3"/>
<rect x="306.36" y="291.4" width="8.15" height="11.6" fill="#e7298a"/>
<rect x="306.36" y="302.4" width="8.15" height="8.6" fill="#66a646"/>
<rect x="306.36" y="310.4" width="8.15" height="16.2" fill="#a6762c"/>
<rect x="306.36" y="326" width="8.15" height="1.4" fill="#c6e8f8"/>
<rect x="315.5" y="232.4" width="8.15" height="8.2" fill="#1b9e77"/>
<rect x="315.5" y="240" width="8.15" height="40" fill="#7570b3"/>
<rect x="315.5" y="279.4" width="8.15" height="23.8" fill="#e7298a"/>
<rect x="315.5" y="302.6" width="8.15" height="24" fill="#66a646"/>
<rect x="315.5" y="326" width="8.15" height="1.4" fill="#b5202a"/>
<rect x="324.64" y="232.4" width="8.15" height="4.6" fill="#1b9e77"/>
<rect x="324.64" y="236.4" width="8.15" height="39.8" fill="#7570b3"/>
<rect x="324.64" y="275.6" width="8.15" height="16.4" fill="#e7298a"/>
<rect x="324.64" y="291.4" width="8.15" height="36" fill="#66a646"/>
<rect x="333.78" y="232.4" width="8.15" height="7.2" fill="#1b9e77"/>
<rect x="333.78" y="239" width="8.15" height="44.6" fill="#7570b3"/>
<rect x="333.78" y="283" width="8.15" height="18.2" fill="#e7298a"/>
<rect x="333.78" y="300.6" width="8.15" height="26.8" fill="#66a646"/>
<rect x="342.92" y="232.4" width="8.15" height="5.2" fill="#1b9e77"/>
<rect x="342.92" y="237" width="8.15" height="38" fill="#7570b3"/>
<rect x="342.92" y="274.4" width="8.15" height="13.8" fill="#e7298a"/>
<rect x="342.92" y="287.6" width="8.15" height="39.8" fill="#66a646"/>
<rect x="352.06" y="232.4" width="8.15" height="3.8" fill="#1b9e77"/>
<rect x="352.06" y="235.6" width="8.15" height="32.4" fill="#7570b3"/>
<rect x="352.06" y="267.4" width="8.15" height="11.6" fill="#e7298a"/>
<rect x="352.06" y="278.4" width="8.15" height="28.6" fill="#66a646"/>
<rect x="352.06" y="306.4" width="8.15" height="21" fill="#f7b1c3"/>
<rect x="361.2" y="232.4" width="8.15" height="12.2" fill="#1b9e77"/>
<rect x="361.2" y="244" width="8.15" height="47.6" fill="#7570b3"/>
<rect x="361.2" y="291" width="8.15" height="18" fill="#e7298a"/>
<rect x="361.2" y="308.4" width="8.15" height="19" fill="#66a646"/>
<rect x="370.34" y="232.4" width="8.15" height="3.8" fill="#1b9e77"/>
<rect x="370.34" y="235.6" width="8.15" height="2.6" fill="#d95f28"/>
<rect x="370.34" y="237.6" width="8.15" height="30.4" fill="#7570b3"/>
<rect x="370.34" y="267.4" width="8.15" height="15.2" fill="#e7298a"/>
<rect x="370.34" y="282" width="8.15" height="43" fill="#66a646"/>
<rect x="370.34" y="324.4" width="8.15" height="3" fill="#c6e8f8"/>
<rect x="379.48" y="232.4" width="8.15" height="6.8" fill="#1b9e77"/>
<rect x="379.48" y="238.6" width="8.15" height="3" fill="#d95f28"/>
<rect x="379.48" y="241" width="8.15" height="51" fill="#7570b3"/>
<rect x="379.48" y="291.4" width="8.15" height="28.8" fill="#e7298a"/>
<rect x="379.48" y="319.6" width="8.15" height="7.8" fill="#66a646"/>
<rect x="388.62" y="232.4" width="8.15" height="9.6" fill="#1b9e77"/>
<rect x="388.62" y="241.4" width="8.15" height="2.8" fill="#d95f28"/>
<rect x="388.62" y="243.6" width="8.15" height="39.6" fill="#7570b3"/>
<rect x="388.62" y="282.6" width="8.15" height="20.4" fill="#e7298a"/>
<rect x="388.62" y="302.4" width="8.15" height="15.6" fill="#66a646"/>
<rect x="388.62" y="317.4" width="8.15" height="8.2" fill="#666666"/>
<rect x="388.62" y="325" width="8.15" height="2.4" fill="#b5202a"/>
<rect x="397.76" y="232.4" width="8.15" height="13.2" fill="#1b9e77"/>
<rect x="397.76" y="245" width="8.15" height="3.6" fill="#d95f28"/>
<rect x="397.76" y="248" width="8.15" height="42" fill="#7570b3"/>
<rect x="397.76" y="289.4" width="8.15" height="16.2" fill="#e7298a"/>
<rect x="397.76" y="305" width="8.15" height="22.4" fill="#66a646"/>
<rect x="406.9" y="232.4" width="8.15" height="9.2" fill="#1b9e77"/>
<rect x="406.9" y="241" width="8.15" height="3.6" fill="#d95f28"/>
<rect x="406.9" y="244" width="8.15" height="42" fill="#7570b3"/>
<rect x="406.9" y="285.4" width="8.15" height="15.8" fill="#e7298a"/>
<rect x="406.9" y="300.6" width="8.15" height="24.4" fill="#66a646"/>
<rect x="406.9" y="324.4" width="8.15" height="3" fill="#b3a9dc"/>
<rect x="416.04" y="232.4" width="8.15" height="7.2" fill="#1b9e77"/>
<rect x="416.04" y="239" width="8.15" height="3.6" fill="#d95f28"/>
<rect x="416.04" y="242" width="8.15" height="37.6" fill="#7570b3"/>
<rect x="416.04" y="279" width="8.15" height="22" fill="#66a646"/>
<rect x="416.04" y="300.4" width="8.15" height="5.2" fill="#f7b1c3"/>
<rect x="416.04" y="305" width="8.15" height="8.6" fill="#a6762c"/>
<rect x="416.04" y="313" width="8.15" height="6.6" fill="#666666"/>
<rect x="416.04" y="319" width="8.15" height="8.4" fill="#b5202a"/>
<rect x="425.18" y="232.4" width="8.15" height="6.2" fill="#1b9e77"/>
<rect x="425.18" y="238" width="8.15" height="3.6" fill="#d95f28"/>
<rect x="425.18" y="241" width="8.15" height="34.6" fill="#7570b3"/>
<rect x="425.18" y="275" width="8.15" height="8.6" fill="#e7298a"/>
<rect x="425.18" y="283" width="8.15" height="29.2" fill="#66a646"/>
<rect x="425.18" y="311.6" width="8.15" height="5.4" fill="#f7b1c3"/>
<rect x="425.18" y="316.4" width="8.15" height="8.2" fill="#a6762c"/>
<rect x="425.18" y="324" width="8.15" height="3.4" fill="#b5202a"/>
<rect x="434.32" y="232.4" width="8.15" height="9.2" fill="#1b9e77"/>
<rect x="434.32" y="241" width="8.15" height="5.2" fill="#d95f28"/>
<rect x="434.32" y="245.6" width="8.15" height="46" fill="#7570b3"/>
<rect x="434.32" y="291" width="8.15" height="11.6" fill="#e7298a"/>
<rect x="434.32" y="302" width="8.15" height="18.6" fill="#66a646"/>
<rect x="434.32" y="320" width="8.15" height="4.2" fill="#666666"/>
<rect x="434.32" y="323.6" width="8.15" height="3.8" fill="#b5202a"/>
<rect x="443.46" y="232.4" width="8.15" height="8.6" fill="#1b9e77"/>
<rect x="443.46" y="240.4" width="8.15" height="5.8" fill="#d95f28"/>
<rect x="443.46" y="245.6" width="8.15" height="51" fill="#7570b3"/>
<rect x="443.46" y="296" width="8.15" height="10.6" fill="#e7298a"/>
<rect x="443.46" y="306" width="8.15" height="21.4" fill="#66a646"/>
<rect x="452.6" y="232.4" width="8.15" height="6.8" fill="#1b9e77"/>
<rect x="452.6" y="238.6" width="8.15" height="6" fill="#d95f28"/>
<rect x="452.6" y="244" width="8.15" height="33" fill="#7570b3"/>
<rect x="452.6" y="276.4" width="8.15" height="6.6" fill="#e7298a"/>
<rect x="452.6" y="282.4" width="8.15" height="26.6" fill="#66a646"/>
<rect x="452.6" y="308.4" width="8.15" height="13.2" fill="#a6762c"/>
<rect x="452.6" y="321" width="8.15" height="6.4" fill="#b5202a"/>
<rect x="461.74" y="232.4" width="8.15" height="5.2" fill="#1b9e77"/>
<rect x="461.74" y="237" width="8.15" height="8.6" fill="#d95f28"/>
<rect x="461.74" y="245" width="8.15" height="40.6" fill="#7570b3"/>
<rect x="461.74" y="285" width="8.15" height="8.6" fill="#e7298a"/>
<rect x="461.74" y="293" width="8.15" height="17.2" fill="#66a646"/>
<rect x="461.74" y="309.6" width="8.15" height="15" fill="#a6762c"/>
<rect x="461.74" y="324" width="8.15" height="3.4" fill="#c6e8f8"/>
<rect x="475.2" y="232.4" width="8.15" height="5.2" fill="#1b9e77"/>
<rect x="475.2" y="237" width="8.15" height="22.2" fill="#7570b3"/>
<rect x="475.2" y="258.6" width="8.15" height="16.4" fill="#e7298a"/>
<rect x="475.2" y="274.4" width="8.15" height="37.2" fill="#66a646"/>
<rect x="475.2" y="311" width="8.15" height="16" fill="#666666"/>
<rect x="475.2" y="326.4" width="8.15" height="1" fill="#b5202a"/>
<rect x="484.47" y="232.4" width="8.15" height="4.2" fill="#1b9e77"/>
<rect x="484.47" y="236" width="8.15" height="26.6" fill="#7570b3"/>
<rect x="484.47" y="262" width="8.15" height="20.2" fill="#e7298a"/>
<rect x="484.47" y="281.6" width="8.15" height="34" fill="#66a646"/>
<rect x="484.47" y="315" width="8.15" height="12.4" fill="#666666"/>
<rect x="493.74" y="232.4" width="8.15" height="13.6" fill="#1b9e77"/>
<rect x="493.74" y="245.4" width="8.15" height="1.8" fill="#d95f28"/>
<rect x="493.74" y="246.6" width="8.15" height="61.6" fill="#7570b3"/>
<rect x="493.74" y="307.6" width="8.15" height="11.4" fill="#e7298a"/>
<rect x="493.74" y="318.4" width="8.15" height="9" fill="#66a646"/>
<rect x="503.01" y="232.4" width="8.15" height="6.8" fill="#1b9e77"/>
<rect x="503.01" y="238.6" width="8.15" height="3" fill="#d95f28"/>
<rect x="503.01" y="241" width="8.15" height="58.2" fill="#7570b3"/>
<rect x="503.01" y="298.6" width="8.15" height="18.6" fill="#e7298a"/>
<rect x="503.01" y="316.6" width="8.15" height="10.8" fill="#66a646"/>
</g>
<g font-size="4.6" font-family="'DejaVu Sans',sans-serif" text-anchor="middle" fill="#231f20">
<text x="64.45" y="231.2">★</text>
<text x="73.59" y="231.2">★</text>
<text x="91.88" y="231.2">★</text>
<text x="128.44" y="231.2">★</text>
<text x="155.86" y="231.2">★</text>
<text x="192.42" y="231.2">★</text>
<text x="201.56" y="231.2">★</text>
<text x="228.98" y="231.2">★</text>
<text x="238.12" y="231.2">★</text>
<text x="247.25" y="231.2">★</text>
<text x="256.4" y="231.2">★</text>
<text x="292.96" y="231.2">★</text>
<text x="320.38" y="231.2">★</text>
<text x="375.22" y="231.2">★</text>
<text x="420.92" y="231.2">★</text>
<text x="430.06" y="231.2">★</text>
<text x="448.34" y="231.2">★</text>
<text x="457.48" y="231.2">★</text>
<text x="466.62" y="231.2">★</text>
<text x="489.34" y="231.2">★</text>
</g>
<g font-size="8.1" text-anchor="end" fill="#231f20">
<line x1="39" y1="232.4" x2="41.3" y2="232.4" stroke="#231f20" stroke-width="1"/>
<text x="36.3" y="235.3" textLength="15.3" lengthAdjust="spacingAndGlyphs">1.00</text>
<line x1="39" y1="256.15" x2="41.3" y2="256.15" stroke="#231f20" stroke-width="1"/>
<text x="36.3" y="259.05" textLength="15.3" lengthAdjust="spacingAndGlyphs">0.75</text>
<line x1="39" y1="279.9" x2="41.3" y2="279.9" stroke="#231f20" stroke-width="1"/>
<text x="36.3" y="282.8" textLength="15.3" lengthAdjust="spacingAndGlyphs">0.50</text>
<line x1="39" y1="303.65" x2="41.3" y2="303.65" stroke="#231f20" stroke-width="1"/>
<text x="36.3" y="306.55" textLength="15.3" lengthAdjust="spacingAndGlyphs">0.25</text>
<line x1="39" y1="327.4" x2="41.3" y2="327.4" stroke="#231f20" stroke-width="1"/>
<text x="36.3" y="330.3" textLength="15.3" lengthAdjust="spacingAndGlyphs">0.00</text>
</g>
<text x="15.4" y="279.8" font-size="9.8" text-anchor="middle" textLength="68.3" lengthAdjust="spacingAndGlyphs" transform="rotate(-90 15.4 279.8)">Relative contribution</text>
<g font-size="9.3" text-anchor="end" fill="#231f20" lengthAdjust="spacingAndGlyphs">
<line x1="45.77" y1="327.4" x2="45.77" y2="330.3" stroke="#1a1a1a" stroke-width="1.15"/>
<text x="49.77" y="333.1" transform="rotate(-90 49.77 333.1)" textLength="26.61" lengthAdjust="spacingAndGlyphs">Aph_13</text>
<line x1="54.91" y1="327.4" x2="54.91" y2="330.3" stroke="#1a1a1a" stroke-width="1.15"/>
<text x="58.9" y="333.1" transform="rotate(-90 58.9 333.1)" textLength="33.47" lengthAdjust="spacingAndGlyphs">CAR_106</text>
<line x1="64.06" y1="327.4" x2="64.06" y2="330.3" stroke="#1a1a1a" stroke-width="1.15"/>
<text x="68.03" y="333.1" transform="rotate(-90 68.03 333.1)" textLength="33.47" lengthAdjust="spacingAndGlyphs">CAR_121</text>
<line x1="73.2" y1="327.4" x2="73.2" y2="330.3" stroke="#1a1a1a" stroke-width="1.15"/>
<text x="77.16" y="333.1" transform="rotate(-90 77.16 333.1)" textLength="33.47" lengthAdjust="spacingAndGlyphs">CAR_133</text>
<line x1="82.34" y1="327.4" x2="82.34" y2="330.3" stroke="#1a1a1a" stroke-width="1.15"/>
<text x="86.28" y="333.1" transform="rotate(-90 86.28 333.1)" textLength="33.47" lengthAdjust="spacingAndGlyphs">CAR_144</text>
<line x1="91.48" y1="327.4" x2="91.48" y2="330.3" stroke="#1a1a1a" stroke-width="1.15"/>
<text x="95.41" y="333.1" transform="rotate(-90 95.41 333.1)" textLength="33.47" lengthAdjust="spacingAndGlyphs">CAR_155</text>
<line x1="100.62" y1="327.4" x2="100.62" y2="330.3" stroke="#1a1a1a" stroke-width="1.15"/>
<text x="104.54" y="333.1" transform="rotate(-90 104.54 333.1)" textLength="33.47" lengthAdjust="spacingAndGlyphs">CAR_160</text>
<line x1="109.76" y1="327.4" x2="109.76" y2="330.3" stroke="#1a1a1a" stroke-width="1.15"/>
<text x="113.66" y="333.1" transform="rotate(-90 113.66 333.1)" textLength="33.47" lengthAdjust="spacingAndGlyphs">CAR_163</text>
<line x1="118.9" y1="327.4" x2="118.9" y2="330.3" stroke="#1a1a1a" stroke-width="1.15"/>
<text x="122.79" y="333.1" transform="rotate(-90 122.79 333.1)" textLength="33.47" lengthAdjust="spacingAndGlyphs">CAR_177</text>
<line x1="128.03" y1="327.4" x2="128.03" y2="330.3" stroke="#1a1a1a" stroke-width="1.15"/>
<text x="131.92" y="333.1" transform="rotate(-90 131.92 333.1)" textLength="33.47" lengthAdjust="spacingAndGlyphs">CAR_178</text>
<line x1="137.17" y1="327.4" x2="137.17" y2="330.3" stroke="#1a1a1a" stroke-width="1.15"/>
<text x="141.04" y="333.1" transform="rotate(-90 141.04 333.1)" textLength="33.47" lengthAdjust="spacingAndGlyphs">CAR_276</text>
<line x1="146.31" y1="327.4" x2="146.31" y2="330.3" stroke="#1a1a1a" stroke-width="1.15"/>
<text x="150.17" y="333.1" transform="rotate(-90 150.17 333.1)" textLength="33.47" lengthAdjust="spacingAndGlyphs">CAR_280</text>
<line x1="155.46" y1="327.4" x2="155.46" y2="330.3" stroke="#1a1a1a" stroke-width="1.15"/>
<text x="159.3" y="333.1" transform="rotate(-90 159.3 333.1)" textLength="29.18" lengthAdjust="spacingAndGlyphs">CAR_60</text>
<line x1="164.59" y1="327.4" x2="164.59" y2="330.3" stroke="#1a1a1a" stroke-width="1.15"/>
<text x="168.43" y="333.1" transform="rotate(-90 168.43 333.1)" textLength="29.18" lengthAdjust="spacingAndGlyphs">CAR_64</text>
<line x1="173.73" y1="327.4" x2="173.73" y2="330.3" stroke="#1a1a1a" stroke-width="1.15"/>
<text x="177.55" y="333.1" transform="rotate(-90 177.55 333.1)" textLength="29.18" lengthAdjust="spacingAndGlyphs">CAR_86</text>
<line x1="182.88" y1="327.4" x2="182.88" y2="330.3" stroke="#1a1a1a" stroke-width="1.15"/>
<text x="186.68" y="333.1" transform="rotate(-90 186.68 333.1)" textLength="29.18" lengthAdjust="spacingAndGlyphs">CAR_88</text>
<line x1="192.02" y1="327.4" x2="192.02" y2="330.3" stroke="#1a1a1a" stroke-width="1.15"/>
<text x="195.81" y="333.1" transform="rotate(-90 195.81 333.1)" textLength="22.32" lengthAdjust="spacingAndGlyphs">Seq_5</text>
<line x1="201.16" y1="327.4" x2="201.16" y2="330.3" stroke="#1a1a1a" stroke-width="1.15"/>
<text x="204.93" y="333.1" transform="rotate(-90 204.93 333.1)" textLength="33.47" lengthAdjust="spacingAndGlyphs">CAR_266</text>
<line x1="210.29" y1="327.4" x2="210.29" y2="330.3" stroke="#1a1a1a" stroke-width="1.15"/>
<text x="214.06" y="333.1" transform="rotate(-90 214.06 333.1)" textLength="33.47" lengthAdjust="spacingAndGlyphs">CAR_122</text>
<line x1="219.44" y1="327.4" x2="219.44" y2="330.3" stroke="#1a1a1a" stroke-width="1.15"/>
<text x="223.19" y="333.1" transform="rotate(-90 223.19 333.1)" textLength="33.47" lengthAdjust="spacingAndGlyphs">CAR_123</text>
<line x1="228.58" y1="327.4" x2="228.58" y2="330.3" stroke="#1a1a1a" stroke-width="1.15"/>
<text x="232.31" y="333.1" transform="rotate(-90 232.31 333.1)" textLength="33.47" lengthAdjust="spacingAndGlyphs">CAR_130</text>
<line x1="237.72" y1="327.4" x2="237.72" y2="330.3" stroke="#1a1a1a" stroke-width="1.15"/>
<text x="241.44" y="333.1" transform="rotate(-90 241.44 333.1)" textLength="33.47" lengthAdjust="spacingAndGlyphs">CAR_154</text>
<line x1="246.85" y1="327.4" x2="246.85" y2="330.3" stroke="#1a1a1a" stroke-width="1.15"/>
<text x="250.57" y="333.1" transform="rotate(-90 250.57 333.1)" textLength="29.18" lengthAdjust="spacingAndGlyphs">CAR_16</text>
<line x1="256" y1="327.4" x2="256" y2="330.3" stroke="#1a1a1a" stroke-width="1.15"/>
<text x="259.7" y="333.1" transform="rotate(-90 259.7 333.1)" textLength="33.47" lengthAdjust="spacingAndGlyphs">CAR_187</text>
<line x1="265.13" y1="327.4" x2="265.13" y2="330.3" stroke="#1a1a1a" stroke-width="1.15"/>
<text x="268.82" y="333.1" transform="rotate(-90 268.82 333.1)" textLength="33.47" lengthAdjust="spacingAndGlyphs">CAR_188</text>
<line x1="274.27" y1="327.4" x2="274.27" y2="330.3" stroke="#1a1a1a" stroke-width="1.15"/>
<text x="277.95" y="333.1" transform="rotate(-90 277.95 333.1)" textLength="33.47" lengthAdjust="spacingAndGlyphs">CAR_235</text>
<line x1="283.41" y1="327.4" x2="283.41" y2="330.3" stroke="#1a1a1a" stroke-width="1.15"/>
<text x="287.08" y="333.1" transform="rotate(-90 287.08 333.1)" textLength="33.47" lengthAdjust="spacingAndGlyphs">CAR_239</text>
<line x1="292.56" y1="327.4" x2="292.56" y2="330.3" stroke="#1a1a1a" stroke-width="1.15"/>
<text x="296.2" y="333.1" transform="rotate(-90 296.2 333.1)" textLength="29.18" lengthAdjust="spacingAndGlyphs">CAR_26</text>
<line x1="301.69" y1="327.4" x2="301.69" y2="330.3" stroke="#1a1a1a" stroke-width="1.15"/>
<text x="305.33" y="333.1" transform="rotate(-90 305.33 333.1)" textLength="33.47" lengthAdjust="spacingAndGlyphs">CAR_267</text>
<line x1="310.83" y1="327.4" x2="310.83" y2="330.3" stroke="#1a1a1a" stroke-width="1.15"/>
<text x="314.46" y="333.1" transform="rotate(-90 314.46 333.1)" textLength="33.47" lengthAdjust="spacingAndGlyphs">CAR_292</text>
<line x1="319.98" y1="327.4" x2="319.98" y2="330.3" stroke="#1a1a1a" stroke-width="1.15"/>
<text x="323.58" y="333.1" transform="rotate(-90 323.58 333.1)" textLength="29.18" lengthAdjust="spacingAndGlyphs">CAR_43</text>
<line x1="329.12" y1="327.4" x2="329.12" y2="330.3" stroke="#1a1a1a" stroke-width="1.15"/>
<text x="332.71" y="333.1" transform="rotate(-90 332.71 333.1)" textLength="29.18" lengthAdjust="spacingAndGlyphs">CAR_56</text>
<line x1="338.25" y1="327.4" x2="338.25" y2="330.3" stroke="#1a1a1a" stroke-width="1.15"/>
<text x="341.84" y="333.1" transform="rotate(-90 341.84 333.1)" textLength="29.18" lengthAdjust="spacingAndGlyphs">CAR_74</text>
<line x1="347.39" y1="327.4" x2="347.39" y2="330.3" stroke="#1a1a1a" stroke-width="1.15"/>
<text x="350.96" y="333.1" transform="rotate(-90 350.96 333.1)" textLength="29.18" lengthAdjust="spacingAndGlyphs">CAR_87</text>
<line x1="356.53" y1="327.4" x2="356.53" y2="330.3" stroke="#1a1a1a" stroke-width="1.15"/>
<text x="360.09" y="333.1" transform="rotate(-90 360.09 333.1)" textLength="29.18" lengthAdjust="spacingAndGlyphs">CAR_95</text>
<line x1="365.68" y1="327.4" x2="365.68" y2="330.3" stroke="#1a1a1a" stroke-width="1.15"/>
<text x="369.22" y="333.1" transform="rotate(-90 369.22 333.1)" textLength="22.32" lengthAdjust="spacingAndGlyphs">Seq_1</text>
<line x1="374.81" y1="327.4" x2="374.81" y2="330.3" stroke="#1a1a1a" stroke-width="1.15"/>
<text x="378.35" y="333.1" transform="rotate(-90 378.35 333.1)" textLength="33.47" lengthAdjust="spacingAndGlyphs">CAR_147</text>
<line x1="383.95" y1="327.4" x2="383.95" y2="330.3" stroke="#1a1a1a" stroke-width="1.15"/>
<text x="387.47" y="333.1" transform="rotate(-90 387.47 333.1)" textLength="33.47" lengthAdjust="spacingAndGlyphs">CAR_285</text>
<line x1="393.1" y1="327.4" x2="393.1" y2="330.3" stroke="#1a1a1a" stroke-width="1.15"/>
<text x="396.6" y="333.1" transform="rotate(-90 396.6 333.1)" textLength="33.47" lengthAdjust="spacingAndGlyphs">CAR_176</text>
<line x1="402.24" y1="327.4" x2="402.24" y2="330.3" stroke="#1a1a1a" stroke-width="1.15"/>
<text x="405.73" y="333.1" transform="rotate(-90 405.73 333.1)" textLength="29.18" lengthAdjust="spacingAndGlyphs">CAR_14</text>
<line x1="411.38" y1="327.4" x2="411.38" y2="330.3" stroke="#1a1a1a" stroke-width="1.15"/>
<text x="414.85" y="333.1" transform="rotate(-90 414.85 333.1)" textLength="33.47" lengthAdjust="spacingAndGlyphs">CAR_237</text>
<line x1="420.51" y1="327.4" x2="420.51" y2="330.3" stroke="#1a1a1a" stroke-width="1.15"/>
<text x="423.98" y="333.1" transform="rotate(-90 423.98 333.1)" textLength="33.47" lengthAdjust="spacingAndGlyphs">CAR_207</text>
<line x1="429.65" y1="327.4" x2="429.65" y2="330.3" stroke="#1a1a1a" stroke-width="1.15"/>
<text x="433.11" y="333.1" transform="rotate(-90 433.11 333.1)" textLength="33.47" lengthAdjust="spacingAndGlyphs">CAR_109</text>
<line x1="438.8" y1="327.4" x2="438.8" y2="330.3" stroke="#1a1a1a" stroke-width="1.15"/>
<text x="442.23" y="333.1" transform="rotate(-90 442.23 333.1)" textLength="29.18" lengthAdjust="spacingAndGlyphs">CAR_13</text>
<line x1="447.94" y1="327.4" x2="447.94" y2="330.3" stroke="#1a1a1a" stroke-width="1.15"/>
<text x="451.36" y="333.1" transform="rotate(-90 451.36 333.1)" textLength="32.9" lengthAdjust="spacingAndGlyphs">CAR_114</text>
<line x1="457.07" y1="327.4" x2="457.07" y2="330.3" stroke="#1a1a1a" stroke-width="1.15"/>
<text x="460.49" y="333.1" transform="rotate(-90 460.49 333.1)" textLength="29.18" lengthAdjust="spacingAndGlyphs">CAR_93</text>
<line x1="466.22" y1="327.4" x2="466.22" y2="330.3" stroke="#1a1a1a" stroke-width="1.15"/>
<text x="469.62" y="333.1" transform="rotate(-90 469.62 333.1)" textLength="33.47" lengthAdjust="spacingAndGlyphs">CAR_126</text>
<line x1="480.3" y1="327.4" x2="480.3" y2="330.3" stroke="#1a1a1a" stroke-width="1.15"/>
<text x="483.7" y="333.1" transform="rotate(-90 483.7 333.1)" textLength="29.18" lengthAdjust="spacingAndGlyphs">CAR_39</text>
<line x1="489.27" y1="327.4" x2="489.27" y2="330.3" stroke="#1a1a1a" stroke-width="1.15"/>
<text x="492.67" y="333.1" transform="rotate(-90 492.67 333.1)" textLength="31.75" lengthAdjust="spacingAndGlyphs">CAR_39r</text>
<line x1="498.24" y1="327.4" x2="498.24" y2="330.3" stroke="#1a1a1a" stroke-width="1.15"/>
<text x="501.64" y="333.1" transform="rotate(-90 501.64 333.1)" textLength="31.75" lengthAdjust="spacingAndGlyphs">CAR_84r</text>
<line x1="507.21" y1="327.4" x2="507.21" y2="330.3" stroke="#1a1a1a" stroke-width="1.15"/>
<text x="510.61" y="333.1" transform="rotate(-90 510.61 333.1)" textLength="29.18" lengthAdjust="spacingAndGlyphs">CAR_84</text>
</g>
</g>
<g id="legend">
<text x="7" y="383" font-size="8.5" font-weight="bold" textLength="85" lengthAdjust="spacingAndGlyphs" fill="#000" stroke="#000" stroke-width="0.2">Mutational signatures</text>
<rect x="6.6" y="391.4" width="5.2" height="5.2" fill="#1b9e77"/>
<text x="14.5" y="396.3" font-size="8" textLength="54.3" lengthAdjust="spacingAndGlyphs">SBS1 (clock-like)</text>
<rect x="72.6" y="391.4" width="5.2" height="5.2" fill="#d95f28"/>
<text x="81.3" y="396.3" font-size="8" textLength="52.5" lengthAdjust="spacingAndGlyphs">SBS2 (APOBEC)</text>
<rect x="159.6" y="391.4" width="5.2" height="5.2" fill="#7570b3"/>
<text x="168" y="396.3" font-size="8" textLength="52.5" lengthAdjust="spacingAndGlyphs">SBS5 (clock-like)</text>
<rect x="265.1" y="391.4" width="5.2" height="5.2" fill="#e7298a"/>
<text x="273" y="396.3" font-size="8" textLength="52.5" lengthAdjust="spacingAndGlyphs">SBS8 (unknown)</text>
<rect x="330.9" y="391.4" width="5.2" height="5.2" fill="#66a646"/>
<text x="338.8" y="396.3" font-size="8" textLength="102" lengthAdjust="spacingAndGlyphs">SBS9 (poly eta-germinal center)</text>
<rect x="443" y="391.4" width="5.2" height="5.2" fill="#f7b1c3"/>
<text x="450" y="396.3" font-size="8" textLength="61.8" lengthAdjust="spacingAndGlyphs">SBS17b (unknown)</text>
<rect x="6.6" y="402.4" width="5.2" height="5.2" fill="#a6762c"/>
<text x="14.5" y="407" font-size="8" textLength="42.7" lengthAdjust="spacingAndGlyphs">SBS18 (ROS)</text>
<rect x="72.6" y="402.4" width="5.2" height="5.2" fill="#666666"/>
<text x="81.3" y="407" font-size="8" textLength="73.7" lengthAdjust="spacingAndGlyphs">SBS-MM1 (melphalan)</text>
<rect x="159.6" y="402.4" width="5.2" height="5.2" fill="#b5202a"/>
<text x="168" y="407" font-size="8" textLength="91.5" lengthAdjust="spacingAndGlyphs">SBS31 (carboplatin/cisplatin)</text>
<rect x="265.1" y="402.4" width="5.2" height="5.2" fill="#c6e8f8"/>
<text x="273" y="407" font-size="8" textLength="54" lengthAdjust="spacingAndGlyphs">SBS35 (cisplatin)</text>
<rect x="330.9" y="402.4" width="5.2" height="5.2" fill="#b3a9dc"/>
<text x="338.8" y="407" font-size="8" textLength="67.5" lengthAdjust="spacingAndGlyphs">E_SBS37 (oxaliplatin)</text>
<text x="445.6" y="405.5" font-size="4.2" text-anchor="middle" font-family="DejaVu Sans,sans-serif">★</text>
<text x="450" y="407" font-size="8" textLength="53.3" lengthAdjust="spacingAndGlyphs">DBS5 (platinum)</text>
<text x="131.8" y="420.8" font-size="8.5" font-weight="bold" textLength="17.7" lengthAdjust="spacingAndGlyphs" fill="#000" stroke="#000" stroke-width="0.2">MTV</text>
<rect x="131.4" y="426.3" width="5.2" height="5.2" fill="#fdd313"/>
<text x="138.8" y="431.3" font-size="8" textLength="28.7" lengthAdjust="spacingAndGlyphs">MTV low</text>
<rect x="131.4" y="435.4" width="5.2" height="5.2" fill="#8b5e25"/>
<text x="138.8" y="440.5" font-size="8" textLength="31.7" lengthAdjust="spacingAndGlyphs">MTV high</text>
<rect x="131.4" y="444.8" width="5.2" height="5.2" fill="#d8eef2"/>
<text x="138.8" y="449.6" font-size="8" textLength="10.7" lengthAdjust="spacingAndGlyphs">NA</text>
<text x="213.6" y="420.8" font-size="8.5" font-weight="bold" textLength="19.6" lengthAdjust="spacingAndGlyphs" fill="#000" stroke="#000" stroke-width="0.2">Alive</text>
<rect x="213.2" y="426.3" width="5.2" height="5.2" fill="#6a62b0"/>
<text x="220.8" y="431.3" font-size="8" textLength="16.4" lengthAdjust="spacingAndGlyphs">Alive</text>
<rect x="213.2" y="435.4" width="5.2" height="5.2" fill="#8a6399"/>
<text x="220.8" y="440.5" font-size="8" textLength="33.4" lengthAdjust="spacingAndGlyphs">Deceased</text>
<text x="283.6" y="420.8" font-size="8.5" font-weight="bold" textLength="46.7" lengthAdjust="spacingAndGlyphs" fill="#000" stroke="#000" stroke-width="0.2">Progression</text>
<rect x="283.2" y="426.3" width="5.2" height="5.2" fill="#6d6d6d"/>
<text x="291.4" y="431.3" font-size="8" textLength="51.4" lengthAdjust="spacingAndGlyphs">No progression</text>
<rect x="283.2" y="435.4" width="5.2" height="5.2" fill="#b0181e"/>
<text x="291.4" y="440.5" font-size="8" textLength="38.9" lengthAdjust="spacingAndGlyphs">Progression</text>
<rect x="283.2" y="444.8" width="5.2" height="5.2" fill="#1b2375"/>
<text x="291.4" y="449.6" font-size="8" textLength="47.6" lengthAdjust="spacingAndGlyphs">CAR T toxicity</text>
<text x="383.4" y="420.8" font-size="8.5" font-weight="bold" textLength="37.2" lengthAdjust="spacingAndGlyphs" fill="#000" stroke="#000" stroke-width="0.2">Histology</text>
<rect x="383" y="426.3" width="5.2" height="5.2" fill="#3db8ea"/>
<text x="390.9" y="431.3" font-size="8" textLength="21.8" lengthAdjust="spacingAndGlyphs">DLBCL</text>
<rect x="383" y="435.4" width="5.2" height="5.2" fill="#f4b9d6"/>
<text x="390.9" y="440.5" font-size="8" textLength="10.7" lengthAdjust="spacingAndGlyphs">TFL</text>
<rect x="383" y="444.8" width="5.2" height="5.2" fill="#a3d486"/>
<text x="390.9" y="449.6" font-size="8" textLength="15.6" lengthAdjust="spacingAndGlyphs">TCLL</text>
</g>
<g id="panel-d">
<text x="6.4" y="479" font-size="10.8" font-weight="bold" textLength="9" lengthAdjust="spacingAndGlyphs" fill="#000" stroke="#000" stroke-width="0.3">D</text>
<text x="92.6" y="485.2" font-size="10" text-anchor="middle" textLength="35.3" lengthAdjust="spacingAndGlyphs">CAR_39</text>
<rect x="51.6" y="499.9" width="27.5" height="6.2" fill="#1b9e77"/>
<rect x="51.6" y="505.6" width="27.5" height="26.3" fill="#7570b3"/>
<rect x="51.6" y="531.4" width="27.5" height="18.3" fill="#e7298a"/>
<rect x="51.6" y="549.2" width="27.5" height="41.1" fill="#66a646"/>
<rect x="51.6" y="589.8" width="27.5" height="15.7" fill="#666666"/>
<rect x="51.6" y="605" width="27.5" height="1.8" fill="#b5202a"/>
<rect x="79.1" y="490" width="27.1" height="1.5" fill="#1b9e77"/>
<rect x="79.1" y="491" width="27.1" height="3.3" fill="#7570b3"/>
<rect x="79.1" y="493.8" width="27.1" height="2.1" fill="#e7298a"/>
<rect x="79.1" y="495.4" width="27.1" height="3.9" fill="#66a646"/>
<rect x="79.1" y="498.8" width="27.1" height="1.1" fill="#666666"/>
<rect x="106.2" y="499.9" width="27.4" height="3.7" fill="#1b9e77"/>
<rect x="106.2" y="503.1" width="27.4" height="27.3" fill="#7570b3"/>
<rect x="106.2" y="529.9" width="27.4" height="22.5" fill="#e7298a"/>
<rect x="106.2" y="551.9" width="27.4" height="35.4" fill="#66a646"/>
<rect x="106.2" y="586.8" width="27.4" height="14.3" fill="#666666"/>
<rect x="106.2" y="600.6" width="27.4" height="1.3" fill="#b5202a"/>
<line x1="46.7" y1="487.2" x2="46.7" y2="622.7" stroke="#111" stroke-width="1.2"/>
<line x1="44.2" y1="490.8" x2="46.7" y2="490.8" stroke="#231f20" stroke-width="1"/>
<text x="41.5" y="493.6" font-size="8.2" text-anchor="end" textLength="4.45" lengthAdjust="spacingAndGlyphs">0</text>
<line x1="44.2" y1="522.75" x2="46.7" y2="522.75" stroke="#231f20" stroke-width="1"/>
<text x="41.5" y="525.55" font-size="8.2" text-anchor="end" textLength="17.8" lengthAdjust="spacingAndGlyphs">2500</text>
<line x1="44.2" y1="554.7" x2="46.7" y2="554.7" stroke="#231f20" stroke-width="1"/>
<text x="41.5" y="557.5" font-size="8.2" text-anchor="end" textLength="17.8" lengthAdjust="spacingAndGlyphs">5000</text>
<line x1="44.2" y1="586.65" x2="46.7" y2="586.65" stroke="#231f20" stroke-width="1"/>
<text x="41.5" y="589.45" font-size="8.2" text-anchor="end" textLength="17.8" lengthAdjust="spacingAndGlyphs">7500</text>
<line x1="44.2" y1="618.6" x2="46.7" y2="618.6" stroke="#231f20" stroke-width="1"/>
<text x="41.5" y="621.4" font-size="8.2" text-anchor="end" textLength="22.25" lengthAdjust="spacingAndGlyphs">10000</text>
<text x="14" y="555" font-size="9.5" text-anchor="middle" textLength="72" lengthAdjust="spacingAndGlyphs" transform="rotate(-90 14 555)">Number of mutations</text>
<text x="59.2" y="614.2" font-size="8" textLength="38" lengthAdjust="spacingAndGlyphs" transform="rotate(43.5 59.2 614.2)">Pre CAR-T</text>
<text x="114.6" y="609.6" font-size="8" textLength="41.5" lengthAdjust="spacingAndGlyphs" transform="rotate(43.5 114.6 609.6)">Post CAR-T</text>
</g>
<g id="panel-e">
<text x="146.8" y="479.3" font-size="10.8" font-weight="bold" textLength="7.6" lengthAdjust="spacingAndGlyphs" fill="#000" stroke="#000" stroke-width="0.3">E</text>
<path d="M192.2 501.67H192.2V503.29H198.94V520.3H201.97V524.75H208.7V527.02H215.44V529.45H217.79V531.96H222.17V534.39H255.84V537.55H318.13V537.55" fill="none" stroke="#c8173a" stroke-width="1.45" stroke-linejoin="miter"/>
<line x1="218.8" y1="530.36" x2="218.8" y2="533.56" stroke="#c8173a" stroke-width="0.9"/>
<line x1="245.74" y1="532.79" x2="245.74" y2="535.99" stroke="#c8173a" stroke-width="0.9"/>
<line x1="269.31" y1="535.95" x2="269.31" y2="539.15" stroke="#c8173a" stroke-width="0.9"/>
<line x1="272.34" y1="535.95" x2="272.34" y2="539.15" stroke="#c8173a" stroke-width="0.9"/>
<line x1="279.41" y1="535.95" x2="279.41" y2="539.15" stroke="#c8173a" stroke-width="0.9"/>
<line x1="289.85" y1="535.95" x2="289.85" y2="539.15" stroke="#c8173a" stroke-width="0.9"/>
<line x1="293.21" y1="535.95" x2="293.21" y2="539.15" stroke="#c8173a" stroke-width="0.9"/>
<line x1="299.95" y1="535.95" x2="299.95" y2="539.15" stroke="#c8173a" stroke-width="0.9"/>
<line x1="309.71" y1="535.95" x2="309.71" y2="539.15" stroke="#c8173a" stroke-width="0.9"/>
<line x1="317.46" y1="535.95" x2="317.46" y2="539.15" stroke="#c8173a" stroke-width="0.9"/>
<path d="M188.5 496H192.2V515.44H198.6V539.74H201.97V545.98H205.34V552.21H215.44V558.37H242.71V567.68H252.81V577" fill="none" stroke="#1c5b98" stroke-width="1.45" stroke-linejoin="miter"/>
<line x1="215.44" y1="556.77" x2="215.44" y2="559.97" stroke="#1c5b98" stroke-width="0.9"/>
<path d="M182.4 491.3V581.0H329.2" fill="none" stroke="#1a1a1a" stroke-width="1.4"/>
<line x1="179.4" y1="496" x2="182" y2="496" stroke="#231f20" stroke-width="1"/>
<text x="176.7" y="498.9" font-size="8.3" text-anchor="end" textLength="16.3" lengthAdjust="spacingAndGlyphs">1.00</text>
<line x1="179.4" y1="516.25" x2="182" y2="516.25" stroke="#231f20" stroke-width="1"/>
<text x="176.7" y="519.15" font-size="8.3" text-anchor="end" textLength="16.3" lengthAdjust="spacingAndGlyphs">0.75</text>
<line x1="179.4" y1="536.5" x2="182" y2="536.5" stroke="#231f20" stroke-width="1"/>
<text x="176.7" y="539.4" font-size="8.3" text-anchor="end" textLength="16.3" lengthAdjust="spacingAndGlyphs">0.50</text>
<line x1="179.4" y1="556.75" x2="182" y2="556.75" stroke="#231f20" stroke-width="1"/>
<text x="176.7" y="559.65" font-size="8.3" text-anchor="end" textLength="16.3" lengthAdjust="spacingAndGlyphs">0.25</text>
<line x1="179.4" y1="577" x2="182" y2="577" stroke="#231f20" stroke-width="1"/>
<text x="176.7" y="579.9" font-size="8.3" text-anchor="end" textLength="16.3" lengthAdjust="spacingAndGlyphs">0.00</text>
<line x1="188.5" y1="581.2" x2="188.5" y2="583.8" stroke="#231f20" stroke-width="1"/>
<text x="188.5" y="593.2" font-size="8.3" text-anchor="middle" textLength="4.4" lengthAdjust="spacingAndGlyphs">0</text>
<line x1="222.17" y1="581.2" x2="222.17" y2="583.8" stroke="#231f20" stroke-width="1"/>
<text x="222.17" y="593.2" font-size="8.3" text-anchor="middle" textLength="8.8" lengthAdjust="spacingAndGlyphs">10</text>
<line x1="255.84" y1="581.2" x2="255.84" y2="583.8" stroke="#231f20" stroke-width="1"/>
<text x="255.84" y="593.2" font-size="8.3" text-anchor="middle" textLength="8.8" lengthAdjust="spacingAndGlyphs">20</text>
<line x1="289.51" y1="581.2" x2="289.51" y2="583.8" stroke="#231f20" stroke-width="1"/>
<text x="289.51" y="593.2" font-size="8.3" text-anchor="middle" textLength="8.8" lengthAdjust="spacingAndGlyphs">30</text>
<line x1="323.18" y1="581.2" x2="323.18" y2="583.8" stroke="#231f20" stroke-width="1"/>
<text x="323.18" y="593.2" font-size="8.3" text-anchor="middle" textLength="8.8" lengthAdjust="spacingAndGlyphs">40</text>
<text x="154.1" y="536.6" font-size="9.6" text-anchor="middle" textLength="34.9" lengthAdjust="spacingAndGlyphs" transform="rotate(-90 154.1 536.6)">Proportion</text>
<text x="254.5" y="605.9" font-size="9.6" text-anchor="middle" textLength="25.4" lengthAdjust="spacingAndGlyphs">Months</text>
<text x="255.7" y="484.9" font-size="10" text-anchor="middle" textLength="38.4" lengthAdjust="spacingAndGlyphs">APOBEC</text>
<text x="272.6" y="533.6" font-size="8.7" textLength="38" lengthAdjust="spacingAndGlyphs" fill="#c8173a">APOBEC −</text>
<text x="257.5" y="569.6" font-size="8.7" textLength="38.8" lengthAdjust="spacingAndGlyphs" fill="#1c5b98">APOBEC +</text>
<text x="189" y="576.9" font-size="8.6" textLength="38.9" lengthAdjust="spacingAndGlyphs">p = 0.0023</text>
<text x="182.2" y="617.8" font-size="8.4" textLength="52.3" lengthAdjust="spacingAndGlyphs">Number at risk</text>
<path d="M182.4 622.1V642.6H329.2" fill="none" stroke="#1a1a1a" stroke-width="1.4"/>
<line x1="179.4" y1="627.6" x2="182" y2="627.6" stroke="#231f20" stroke-width="1"/>
<line x1="167" y1="627.6" x2="175.4" y2="627.6" stroke="#c8173a" stroke-width="1.3"/>
<line x1="171.2" y1="626.1" x2="171.2" y2="629.1" stroke="#c8173a" stroke-width="0.9"/>
<text x="188.5" y="630.5" font-size="8.2" text-anchor="middle" textLength="8.6" lengthAdjust="spacingAndGlyphs">34</text>
<text x="222.17" y="630.5" font-size="8.2" text-anchor="middle" textLength="8.6" lengthAdjust="spacingAndGlyphs">17</text>
<text x="255.84" y="630.5" font-size="8.2" text-anchor="middle" textLength="8.6" lengthAdjust="spacingAndGlyphs">15</text>
<text x="289.51" y="630.5" font-size="8.2" text-anchor="middle" textLength="4.3" lengthAdjust="spacingAndGlyphs">9</text>
<text x="323.18" y="630.5" font-size="8.2" text-anchor="middle" textLength="4.3" lengthAdjust="spacingAndGlyphs">0</text>
<line x1="179.4" y1="636.6" x2="182" y2="636.6" stroke="#231f20" stroke-width="1"/>
<line x1="167" y1="636.6" x2="175.4" y2="636.6" stroke="#1c5b98" stroke-width="1.3"/>
<line x1="171.2" y1="635.1" x2="171.2" y2="638.1" stroke="#1c5b98" stroke-width="0.9"/>
<text x="188.5" y="639.5" font-size="8.2" text-anchor="middle" textLength="8.6" lengthAdjust="spacingAndGlyphs">13</text>
<text x="222.17" y="639.5" font-size="8.2" text-anchor="middle" textLength="4.3" lengthAdjust="spacingAndGlyphs">2</text>
<text x="255.84" y="639.5" font-size="8.2" text-anchor="middle" textLength="4.3" lengthAdjust="spacingAndGlyphs">0</text>
<text x="289.51" y="639.5" font-size="8.2" text-anchor="middle" textLength="4.3" lengthAdjust="spacingAndGlyphs">0</text>
<text x="323.18" y="639.5" font-size="8.2" text-anchor="middle" textLength="4.3" lengthAdjust="spacingAndGlyphs">0</text>
<line x1="188.5" y1="642.6" x2="188.5" y2="645.3" stroke="#231f20" stroke-width="1"/>
<text x="188.5" y="655.3" font-size="8.3" text-anchor="middle" textLength="4.4" lengthAdjust="spacingAndGlyphs">0</text>
<line x1="222.17" y1="642.6" x2="222.17" y2="645.3" stroke="#231f20" stroke-width="1"/>
<text x="222.17" y="655.3" font-size="8.3" text-anchor="middle" textLength="8.8" lengthAdjust="spacingAndGlyphs">10</text>
<line x1="255.84" y1="642.6" x2="255.84" y2="645.3" stroke="#231f20" stroke-width="1"/>
<text x="255.84" y="655.3" font-size="8.3" text-anchor="middle" textLength="8.8" lengthAdjust="spacingAndGlyphs">20</text>
<line x1="289.51" y1="642.6" x2="289.51" y2="645.3" stroke="#231f20" stroke-width="1"/>
<text x="289.51" y="655.3" font-size="8.3" text-anchor="middle" textLength="8.8" lengthAdjust="spacingAndGlyphs">30</text>
<line x1="323.18" y1="642.6" x2="323.18" y2="645.3" stroke="#231f20" stroke-width="1"/>
<text x="323.18" y="655.3" font-size="8.3" text-anchor="middle" textLength="8.8" lengthAdjust="spacingAndGlyphs">40</text>
<text x="256" y="667.9" font-size="9.6" text-anchor="middle" textLength="25.4" lengthAdjust="spacingAndGlyphs">Months</text>
</g>
<g id="panel-f">
<text x="332.4" y="479.3" font-size="10.8" font-weight="bold" textLength="7.2" lengthAdjust="spacingAndGlyphs" fill="#000" stroke="#000" stroke-width="0.3">F</text>
<path d="M375.66 500.86H375.66V502.48H382.37V517.87H385.72V524.75H388.74V527.02H392.09V529.45H398.8V534.39H402.16V536.9H436.05V538.77H439.4V541.68H501.47V541.68" fill="none" stroke="#c8173a" stroke-width="1.45" stroke-linejoin="miter"/>
<line x1="402.5" y1="535.3" x2="402.5" y2="538.5" stroke="#c8173a" stroke-width="0.9"/>
<line x1="429.34" y1="535.3" x2="429.34" y2="538.5" stroke="#c8173a" stroke-width="0.9"/>
<line x1="452.82" y1="540.08" x2="452.82" y2="543.28" stroke="#c8173a" stroke-width="0.9"/>
<line x1="462.88" y1="540.08" x2="462.88" y2="543.28" stroke="#c8173a" stroke-width="0.9"/>
<line x1="472.95" y1="540.08" x2="472.95" y2="543.28" stroke="#c8173a" stroke-width="0.9"/>
<line x1="476.64" y1="540.08" x2="476.64" y2="543.28" stroke="#c8173a" stroke-width="0.9"/>
<line x1="483.01" y1="540.08" x2="483.01" y2="543.28" stroke="#c8173a" stroke-width="0.9"/>
<line x1="493.08" y1="540.08" x2="493.08" y2="543.28" stroke="#c8173a" stroke-width="0.9"/>
<line x1="500.8" y1="540.08" x2="500.8" y2="543.28" stroke="#c8173a" stroke-width="0.9"/>
<path d="M372.3 496H375.66V517.87H382.37V547.43H405.85V557.56H425.98V567.12H456.85V567.12" fill="none" stroke="#1c5b98" stroke-width="1.45" stroke-linejoin="miter"/>
<line x1="399.14" y1="545.83" x2="399.14" y2="549.03" stroke="#1c5b98" stroke-width="0.9"/>
<line x1="456.18" y1="565.52" x2="456.18" y2="568.72" stroke="#1c5b98" stroke-width="0.9"/>
<path d="M365.9 491.3V581.0H513" fill="none" stroke="#1a1a1a" stroke-width="1.4"/>
<line x1="362.9" y1="496" x2="365.5" y2="496" stroke="#231f20" stroke-width="1"/>
<text x="360.2" y="498.9" font-size="8.3" text-anchor="end" textLength="16.3" lengthAdjust="spacingAndGlyphs">1.00</text>
<line x1="362.9" y1="516.25" x2="365.5" y2="516.25" stroke="#231f20" stroke-width="1"/>
<text x="360.2" y="519.15" font-size="8.3" text-anchor="end" textLength="16.3" lengthAdjust="spacingAndGlyphs">0.75</text>
<line x1="362.9" y1="536.5" x2="365.5" y2="536.5" stroke="#231f20" stroke-width="1"/>
<text x="360.2" y="539.4" font-size="8.3" text-anchor="end" textLength="16.3" lengthAdjust="spacingAndGlyphs">0.50</text>
<line x1="362.9" y1="556.75" x2="365.5" y2="556.75" stroke="#231f20" stroke-width="1"/>
<text x="360.2" y="559.65" font-size="8.3" text-anchor="end" textLength="16.3" lengthAdjust="spacingAndGlyphs">0.25</text>
<line x1="362.9" y1="577" x2="365.5" y2="577" stroke="#231f20" stroke-width="1"/>
<text x="360.2" y="579.9" font-size="8.3" text-anchor="end" textLength="16.3" lengthAdjust="spacingAndGlyphs">0.00</text>
<line x1="372.3" y1="581.2" x2="372.3" y2="583.8" stroke="#231f20" stroke-width="1"/>
<text x="372.3" y="593.2" font-size="8.3" text-anchor="middle" textLength="4.4" lengthAdjust="spacingAndGlyphs">0</text>
<line x1="405.85" y1="581.2" x2="405.85" y2="583.8" stroke="#231f20" stroke-width="1"/>
<text x="405.85" y="593.2" font-size="8.3" text-anchor="middle" textLength="8.8" lengthAdjust="spacingAndGlyphs">10</text>
<line x1="439.4" y1="581.2" x2="439.4" y2="583.8" stroke="#231f20" stroke-width="1"/>
<text x="439.4" y="593.2" font-size="8.3" text-anchor="middle" textLength="8.8" lengthAdjust="spacingAndGlyphs">20</text>
<line x1="472.95" y1="581.2" x2="472.95" y2="583.8" stroke="#231f20" stroke-width="1"/>
<text x="472.95" y="593.2" font-size="8.3" text-anchor="middle" textLength="8.8" lengthAdjust="spacingAndGlyphs">30</text>
<line x1="506.5" y1="581.2" x2="506.5" y2="583.8" stroke="#231f20" stroke-width="1"/>
<text x="506.5" y="593.2" font-size="8.3" text-anchor="middle" textLength="8.8" lengthAdjust="spacingAndGlyphs">40</text>
<text x="338.5" y="536.6" font-size="9.6" text-anchor="middle" textLength="34.9" lengthAdjust="spacingAndGlyphs" transform="rotate(-90 338.5 536.6)">Proportion</text>
<text x="438.6" y="605.9" font-size="9.6" text-anchor="middle" textLength="25.4" lengthAdjust="spacingAndGlyphs">Months</text>
<text x="439.3" y="484.9" font-size="10" text-anchor="middle" textLength="27" lengthAdjust="spacingAndGlyphs">SBS18</text>
<text x="465.9" y="537" font-size="8.7" textLength="28.9" lengthAdjust="spacingAndGlyphs" fill="#c8173a">SBS18 −</text>
<text x="437" y="564.4" font-size="8.7" textLength="29.6" lengthAdjust="spacingAndGlyphs" fill="#1c5b98">SBS18 +</text>
<text x="375.5" y="576.9" font-size="8.6" textLength="34.3" lengthAdjust="spacingAndGlyphs">p = 0.039</text>
<text x="365.7" y="617.8" font-size="8.4" textLength="52.3" lengthAdjust="spacingAndGlyphs">Number at risk</text>
<path d="M365.9 622.1V642.6H513" fill="none" stroke="#1a1a1a" stroke-width="1.4"/>
<line x1="362.9" y1="627.6" x2="365.5" y2="627.6" stroke="#231f20" stroke-width="1"/>
<line x1="350.5" y1="627.6" x2="358.9" y2="627.6" stroke="#c8173a" stroke-width="1.3"/>
<line x1="354.7" y1="626.1" x2="354.7" y2="629.1" stroke="#c8173a" stroke-width="0.9"/>
<text x="372.3" y="630.5" font-size="8.2" text-anchor="middle" textLength="8.6" lengthAdjust="spacingAndGlyphs">36</text>
<text x="405.85" y="630.5" font-size="8.2" text-anchor="middle" textLength="8.6" lengthAdjust="spacingAndGlyphs">16</text>
<text x="439.4" y="630.5" font-size="8.2" text-anchor="middle" textLength="8.6" lengthAdjust="spacingAndGlyphs">14</text>
<text x="472.95" y="630.5" font-size="8.2" text-anchor="middle" textLength="4.3" lengthAdjust="spacingAndGlyphs">9</text>
<text x="506.5" y="630.5" font-size="8.2" text-anchor="middle" textLength="4.3" lengthAdjust="spacingAndGlyphs">0</text>
<line x1="362.9" y1="636.6" x2="365.5" y2="636.6" stroke="#231f20" stroke-width="1"/>
<line x1="350.5" y1="636.6" x2="358.9" y2="636.6" stroke="#1c5b98" stroke-width="1.3"/>
<line x1="354.7" y1="635.1" x2="354.7" y2="638.1" stroke="#1c5b98" stroke-width="0.9"/>
<text x="372.3" y="639.5" font-size="8.2" text-anchor="middle" textLength="8.6" lengthAdjust="spacingAndGlyphs">11</text>
<text x="405.85" y="639.5" font-size="8.2" text-anchor="middle" textLength="4.3" lengthAdjust="spacingAndGlyphs">3</text>
<text x="439.4" y="639.5" font-size="8.2" text-anchor="middle" textLength="4.3" lengthAdjust="spacingAndGlyphs">1</text>
<text x="472.95" y="639.5" font-size="8.2" text-anchor="middle" textLength="4.3" lengthAdjust="spacingAndGlyphs">0</text>
<text x="506.5" y="639.5" font-size="8.2" text-anchor="middle" textLength="4.3" lengthAdjust="spacingAndGlyphs">0</text>
<line x1="372.3" y1="642.6" x2="372.3" y2="645.3" stroke="#231f20" stroke-width="1"/>
<text x="372.3" y="655.3" font-size="8.3" text-anchor="middle" textLength="4.4" lengthAdjust="spacingAndGlyphs">0</text>
<line x1="405.85" y1="642.6" x2="405.85" y2="645.3" stroke="#231f20" stroke-width="1"/>
<text x="405.85" y="655.3" font-size="8.3" text-anchor="middle" textLength="8.8" lengthAdjust="spacingAndGlyphs">10</text>
<line x1="439.4" y1="642.6" x2="439.4" y2="645.3" stroke="#231f20" stroke-width="1"/>
<text x="439.4" y="655.3" font-size="8.3" text-anchor="middle" textLength="8.8" lengthAdjust="spacingAndGlyphs">20</text>
<line x1="472.95" y1="642.6" x2="472.95" y2="645.3" stroke="#231f20" stroke-width="1"/>
<text x="472.95" y="655.3" font-size="8.3" text-anchor="middle" textLength="8.8" lengthAdjust="spacingAndGlyphs">30</text>
<line x1="506.5" y1="642.6" x2="506.5" y2="645.3" stroke="#231f20" stroke-width="1"/>
<text x="506.5" y="655.3" font-size="8.3" text-anchor="middle" textLength="8.8" lengthAdjust="spacingAndGlyphs">40</text>
<text x="440.1" y="667.9" font-size="9.6" text-anchor="middle" textLength="25.4" lengthAdjust="spacingAndGlyphs">Months</text>
</g>
<path d="M0 0H520V675H0Z M1 1V674H518.5V1Z" fill="#000" fill-rule="evenodd"/>
</svg>
</body>
</html>
